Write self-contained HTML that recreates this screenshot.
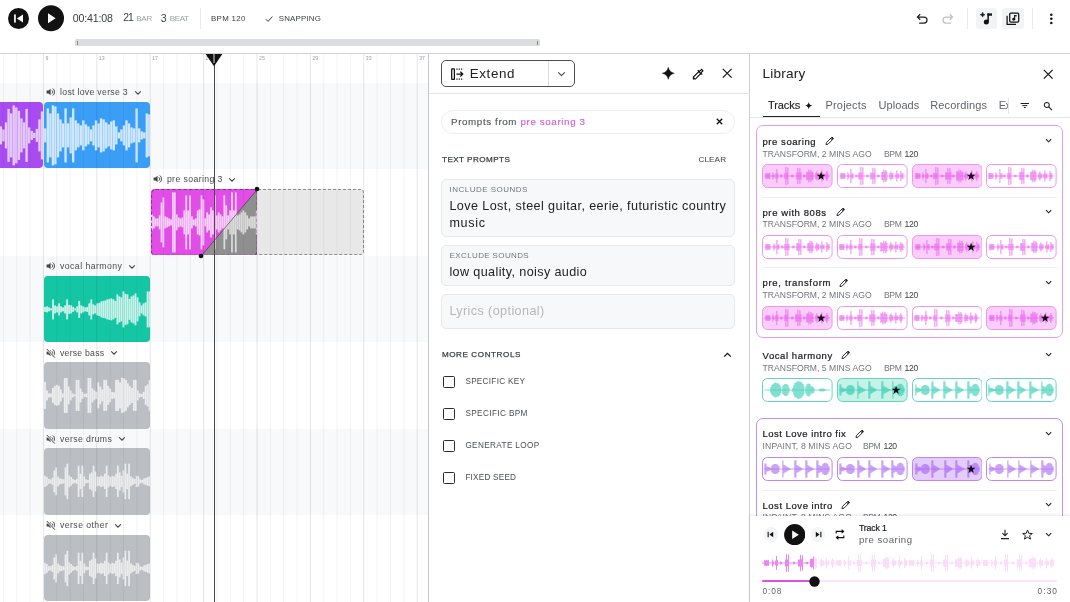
<!DOCTYPE html>
<html lang="en"><head><meta charset="utf-8"><title>Music editor</title><style>
html,body{margin:0;padding:0;background:#fff;}
body{width:1070px;height:602px;overflow:hidden;position:relative;font-family:"Liberation Sans", sans-serif;}
.a{position:absolute;box-sizing:border-box;display:block;}
.t{position:absolute;white-space:nowrap;display:block;}
#app{position:absolute;left:0;top:0;width:1070px;height:602px;will-change:transform;}
</style></head>
<body>
<div id="app">
<div class="a" style="left:0.00px;top:82.50px;width:429.00px;height:86.50px;background:#f8f9fa;"></div>
<div class="a" style="left:0.00px;top:255.50px;width:429.00px;height:86.50px;background:#f8f9fa;"></div>
<div class="a" style="left:0.00px;top:428.50px;width:429.00px;height:86.50px;background:#f8f9fa;"></div>
<div class="a" style="left:-3.40px;top:101.70px;width:46.30px;height:66.80px;background:#a84bf0;border-radius:0 4px 4px 0;overflow:hidden;">
<svg class="a" style="left:0;top:0" width="46.30" height="66.80" viewBox="0 0 46.3 66.8"><g fill="#ffffff" fill-opacity="0.70"><rect x="0.10" y="17.40" width="2.37" height="32.00"/><rect x="2.68" y="24.40" width="2.37" height="18.00"/><rect x="5.25" y="27.40" width="2.37" height="12.00"/><rect x="7.82" y="20.40" width="2.37" height="26.00"/><rect x="10.39" y="6.90" width="2.37" height="53.00"/><rect x="12.96" y="11.40" width="2.37" height="44.00"/><rect x="15.54" y="3.40" width="2.37" height="60.00"/><rect x="18.11" y="5.40" width="2.37" height="56.00"/><rect x="20.68" y="8.80" width="2.37" height="49.20"/><rect x="23.25" y="16.40" width="2.37" height="34.00"/><rect x="25.83" y="20.40" width="2.37" height="26.00"/><rect x="28.40" y="6.90" width="2.37" height="53.00"/><rect x="30.97" y="25.40" width="2.37" height="16.00"/><rect x="33.54" y="28.90" width="2.37" height="9.00"/><rect x="36.11" y="30.80" width="2.37" height="5.20"/><rect x="38.69" y="26.90" width="2.37" height="13.00"/><rect x="41.26" y="17.40" width="2.37" height="32.00"/><rect x="43.83" y="9.40" width="2.37" height="48.00"/></g></svg>
</div>
<div class="a" style="left:43.70px;top:101.70px;width:106.60px;height:66.80px;background:#3a9ef6;border-radius:4px;overflow:hidden;">
<svg class="a" style="left:0;top:0" width="106.60" height="66.80" viewBox="0 0 106.6 66.8"><g fill="#ffffff" fill-opacity="0.76"><rect x="0.10" y="26.40" width="2.34" height="14.00"/><rect x="2.64" y="6.40" width="2.34" height="54.00"/><rect x="5.18" y="11.40" width="2.34" height="44.00"/><rect x="7.72" y="3.40" width="2.34" height="60.00"/><rect x="10.25" y="4.40" width="2.34" height="58.00"/><rect x="12.79" y="11.40" width="2.34" height="44.00"/><rect x="15.33" y="17.40" width="2.34" height="32.00"/><rect x="17.87" y="21.40" width="2.34" height="24.00"/><rect x="20.41" y="6.40" width="2.34" height="54.00"/><rect x="22.94" y="21.40" width="2.34" height="24.00"/><rect x="25.48" y="15.40" width="2.34" height="36.00"/><rect x="28.02" y="6.40" width="2.34" height="54.00"/><rect x="30.56" y="18.40" width="2.34" height="30.00"/><rect x="33.10" y="21.40" width="2.34" height="24.00"/><rect x="35.63" y="23.40" width="2.34" height="20.00"/><rect x="38.17" y="18.40" width="2.34" height="30.00"/><rect x="40.71" y="22.40" width="2.34" height="22.00"/><rect x="43.25" y="24.40" width="2.34" height="18.00"/><rect x="45.79" y="27.40" width="2.34" height="12.00"/><rect x="48.33" y="23.40" width="2.34" height="20.00"/><rect x="50.86" y="18.40" width="2.34" height="30.00"/><rect x="53.40" y="21.40" width="2.34" height="24.00"/><rect x="55.94" y="16.40" width="2.34" height="34.00"/><rect x="58.48" y="17.40" width="2.34" height="32.00"/><rect x="61.02" y="20.40" width="2.34" height="26.00"/><rect x="63.55" y="22.40" width="2.34" height="22.00"/><rect x="66.09" y="19.40" width="2.34" height="28.00"/><rect x="68.63" y="18.40" width="2.34" height="30.00"/><rect x="71.17" y="24.40" width="2.34" height="18.00"/><rect x="73.71" y="30.40" width="2.34" height="6.00"/><rect x="76.24" y="27.40" width="2.34" height="12.00"/><rect x="78.78" y="23.40" width="2.34" height="20.00"/><rect x="81.32" y="18.40" width="2.34" height="30.00"/><rect x="83.86" y="21.40" width="2.34" height="24.00"/><rect x="86.40" y="25.40" width="2.34" height="16.00"/><rect x="88.93" y="26.40" width="2.34" height="14.00"/><rect x="91.47" y="6.40" width="2.34" height="54.00"/><rect x="94.01" y="26.40" width="2.34" height="14.00"/><rect x="96.55" y="29.40" width="2.34" height="8.00"/><rect x="99.09" y="30.40" width="2.34" height="6.00"/><rect x="101.63" y="11.40" width="2.34" height="44.00"/><rect x="104.16" y="12.40" width="2.34" height="42.00"/></g></svg>
</div>
<div class="a" style="left:253.30px;top:188.70px;width:111.10px;height:66.80px;background:rgba(120,120,120,0.17);border:1.2px dashed #8e8e8e;border-radius:0 4px 4px 0;"></div>
<svg class="a" style="left:150.60px;top:188.70px;" width="106.70" height="66.80" viewBox="0 0 106.7 66.8"><defs><clipPath id="cpm"><rect x="0" y="0" width="106.70" height="66.80" rx="4" ry="4"/></clipPath><clipPath id="cpl"><polygon points="0,0 106.70,0 50.40,66.80 0,66.80"/></clipPath><clipPath id="cpr"><polygon points="106.70,0 106.70,66.80 50.40,66.80"/></clipPath></defs><g clip-path="url(#cpm)"><rect width="106.70" height="66.80" fill="#e24de8"/><polygon points="106.70,0 106.70,66.80 50.40,66.80" fill="#8f8f8f"/><g clip-path="url(#cpl)"><g fill="#ffffff" fill-opacity="0.74"><rect x="0.08" y="25.40" width="1.75" height="16.00"/><rect x="1.98" y="27.40" width="1.75" height="12.00"/><rect x="3.89" y="29.40" width="1.75" height="8.00"/><rect x="5.79" y="29.40" width="1.75" height="8.00"/><rect x="7.70" y="26.40" width="1.75" height="14.00"/><rect x="9.60" y="13.40" width="1.75" height="40.00"/><rect x="11.51" y="8.40" width="1.75" height="50.00"/><rect x="13.41" y="27.40" width="1.75" height="12.00"/><rect x="15.32" y="28.40" width="1.75" height="10.00"/><rect x="17.22" y="29.40" width="1.75" height="8.00"/><rect x="19.13" y="30.40" width="1.75" height="6.00"/><rect x="21.04" y="3.40" width="1.75" height="60.00"/><rect x="22.94" y="3.40" width="1.75" height="60.00"/><rect x="24.85" y="25.40" width="1.75" height="16.00"/><rect x="26.75" y="28.40" width="1.75" height="10.00"/><rect x="28.66" y="29.40" width="1.75" height="8.00"/><rect x="30.56" y="28.40" width="1.75" height="10.00"/><rect x="32.47" y="21.40" width="1.75" height="24.00"/><rect x="34.37" y="6.40" width="1.75" height="54.00"/><rect x="36.28" y="21.40" width="1.75" height="24.00"/><rect x="38.18" y="6.40" width="1.75" height="54.00"/><rect x="40.09" y="27.40" width="1.75" height="12.00"/><rect x="41.99" y="30.40" width="1.75" height="6.00"/><rect x="43.90" y="29.40" width="1.75" height="8.00"/><rect x="45.80" y="21.40" width="1.75" height="24.00"/><rect x="47.71" y="20.40" width="1.75" height="26.00"/><rect x="49.62" y="6.40" width="1.75" height="54.00"/><rect x="51.52" y="10.40" width="1.75" height="46.00"/><rect x="53.43" y="29.40" width="1.75" height="8.00"/><rect x="55.33" y="23.40" width="1.75" height="20.00"/><rect x="57.24" y="25.40" width="1.75" height="16.00"/><rect x="59.14" y="18.40" width="1.75" height="30.00"/><rect x="61.05" y="21.40" width="1.75" height="24.00"/><rect x="62.95" y="6.40" width="1.75" height="54.00"/><rect x="64.86" y="26.40" width="1.75" height="14.00"/><rect x="66.76" y="23.40" width="1.75" height="20.00"/><rect x="68.67" y="25.40" width="1.75" height="16.00"/><rect x="70.57" y="27.40" width="1.75" height="12.00"/><rect x="72.48" y="6.40" width="1.75" height="54.00"/><rect x="74.39" y="16.40" width="1.75" height="34.00"/><rect x="76.29" y="26.40" width="1.75" height="14.00"/><rect x="78.20" y="21.40" width="1.75" height="24.00"/><rect x="80.10" y="3.40" width="1.75" height="60.00"/><rect x="82.01" y="21.40" width="1.75" height="24.00"/><rect x="83.91" y="3.40" width="1.75" height="60.00"/><rect x="85.82" y="26.40" width="1.75" height="14.00"/><rect x="87.72" y="25.40" width="1.75" height="16.00"/><rect x="89.63" y="23.40" width="1.75" height="20.00"/><rect x="91.53" y="21.40" width="1.75" height="24.00"/><rect x="93.44" y="23.40" width="1.75" height="20.00"/><rect x="95.34" y="26.40" width="1.75" height="14.00"/><rect x="97.25" y="29.40" width="1.75" height="8.00"/><rect x="99.15" y="27.40" width="1.75" height="12.00"/><rect x="101.06" y="27.40" width="1.75" height="12.00"/><rect x="102.97" y="27.40" width="1.75" height="12.00"/><rect x="104.87" y="21.40" width="1.75" height="24.00"/></g></g><g clip-path="url(#cpr)"><g fill="#ffffff" fill-opacity="0.68"><rect x="0.08" y="25.40" width="1.75" height="16.00"/><rect x="1.98" y="27.40" width="1.75" height="12.00"/><rect x="3.89" y="29.40" width="1.75" height="8.00"/><rect x="5.79" y="29.40" width="1.75" height="8.00"/><rect x="7.70" y="26.40" width="1.75" height="14.00"/><rect x="9.60" y="13.40" width="1.75" height="40.00"/><rect x="11.51" y="8.40" width="1.75" height="50.00"/><rect x="13.41" y="27.40" width="1.75" height="12.00"/><rect x="15.32" y="28.40" width="1.75" height="10.00"/><rect x="17.22" y="29.40" width="1.75" height="8.00"/><rect x="19.13" y="30.40" width="1.75" height="6.00"/><rect x="21.04" y="3.40" width="1.75" height="60.00"/><rect x="22.94" y="3.40" width="1.75" height="60.00"/><rect x="24.85" y="25.40" width="1.75" height="16.00"/><rect x="26.75" y="28.40" width="1.75" height="10.00"/><rect x="28.66" y="29.40" width="1.75" height="8.00"/><rect x="30.56" y="28.40" width="1.75" height="10.00"/><rect x="32.47" y="21.40" width="1.75" height="24.00"/><rect x="34.37" y="6.40" width="1.75" height="54.00"/><rect x="36.28" y="21.40" width="1.75" height="24.00"/><rect x="38.18" y="6.40" width="1.75" height="54.00"/><rect x="40.09" y="27.40" width="1.75" height="12.00"/><rect x="41.99" y="30.40" width="1.75" height="6.00"/><rect x="43.90" y="29.40" width="1.75" height="8.00"/><rect x="45.80" y="21.40" width="1.75" height="24.00"/><rect x="47.71" y="20.40" width="1.75" height="26.00"/><rect x="49.62" y="6.40" width="1.75" height="54.00"/><rect x="51.52" y="10.40" width="1.75" height="46.00"/><rect x="53.43" y="29.40" width="1.75" height="8.00"/><rect x="55.33" y="23.40" width="1.75" height="20.00"/><rect x="57.24" y="25.40" width="1.75" height="16.00"/><rect x="59.14" y="18.40" width="1.75" height="30.00"/><rect x="61.05" y="21.40" width="1.75" height="24.00"/><rect x="62.95" y="6.40" width="1.75" height="54.00"/><rect x="64.86" y="26.40" width="1.75" height="14.00"/><rect x="66.76" y="23.40" width="1.75" height="20.00"/><rect x="68.67" y="25.40" width="1.75" height="16.00"/><rect x="70.57" y="27.40" width="1.75" height="12.00"/><rect x="72.48" y="6.40" width="1.75" height="54.00"/><rect x="74.39" y="16.40" width="1.75" height="34.00"/><rect x="76.29" y="26.40" width="1.75" height="14.00"/><rect x="78.20" y="21.40" width="1.75" height="24.00"/><rect x="80.10" y="3.40" width="1.75" height="60.00"/><rect x="82.01" y="21.40" width="1.75" height="24.00"/><rect x="83.91" y="3.40" width="1.75" height="60.00"/><rect x="85.82" y="26.40" width="1.75" height="14.00"/><rect x="87.72" y="25.40" width="1.75" height="16.00"/><rect x="89.63" y="23.40" width="1.75" height="20.00"/><rect x="91.53" y="21.40" width="1.75" height="24.00"/><rect x="93.44" y="23.40" width="1.75" height="20.00"/><rect x="95.34" y="26.40" width="1.75" height="14.00"/><rect x="97.25" y="29.40" width="1.75" height="8.00"/><rect x="99.15" y="27.40" width="1.75" height="12.00"/><rect x="101.06" y="27.40" width="1.75" height="12.00"/><rect x="102.97" y="27.40" width="1.75" height="12.00"/><rect x="104.87" y="21.40" width="1.75" height="24.00"/></g></g><line x1="106.70" y1="0" x2="50.4" y2="66.80" stroke="#222" stroke-opacity="0.55" stroke-width="0.9"/></g><rect x="0.5" y="0.5" width="105.70" height="65.80" rx="4" ry="4" fill="none" stroke="#7f2386" stroke-opacity="0.8" stroke-width="1.1" stroke-dasharray="3.4 2.2"/></svg>
<div class="a" style="left:43.70px;top:275.60px;width:106.60px;height:66.80px;background:#14c6a4;border-radius:4px;overflow:hidden;">
<svg class="a" style="left:0;top:0" width="106.60" height="66.80" viewBox="0 0 106.6 66.8"><g fill="#ffffff" fill-opacity="0.78"><rect x="0.08" y="30.90" width="1.85" height="5.00"/><rect x="2.09" y="30.40" width="1.85" height="6.00"/><rect x="4.10" y="31.40" width="1.85" height="4.00"/><rect x="6.11" y="32.40" width="1.85" height="2.00"/><rect x="8.13" y="23.40" width="1.85" height="20.00"/><rect x="10.14" y="29.40" width="1.85" height="8.00"/><rect x="12.15" y="30.40" width="1.85" height="6.00"/><rect x="14.16" y="27.40" width="1.85" height="12.00"/><rect x="16.17" y="30.40" width="1.85" height="6.00"/><rect x="18.18" y="31.40" width="1.85" height="4.00"/><rect x="20.19" y="29.40" width="1.85" height="8.00"/><rect x="22.20" y="23.40" width="1.85" height="20.00"/><rect x="24.22" y="28.90" width="1.85" height="9.00"/><rect x="26.23" y="29.40" width="1.85" height="8.00"/><rect x="28.24" y="30.90" width="1.85" height="5.00"/><rect x="30.25" y="32.40" width="1.85" height="2.00"/><rect x="32.26" y="30.40" width="1.85" height="6.00"/><rect x="34.27" y="24.90" width="1.85" height="17.00"/><rect x="36.28" y="29.40" width="1.85" height="8.00"/><rect x="38.30" y="30.40" width="1.85" height="6.00"/><rect x="40.31" y="31.40" width="1.85" height="4.00"/><rect x="42.32" y="30.90" width="1.85" height="5.00"/><rect x="44.33" y="27.40" width="1.85" height="12.00"/><rect x="46.34" y="23.40" width="1.85" height="20.00"/><rect x="48.35" y="28.40" width="1.85" height="10.00"/><rect x="50.36" y="29.40" width="1.85" height="8.00"/><rect x="52.37" y="27.40" width="1.85" height="12.00"/><rect x="54.39" y="26.90" width="1.85" height="13.00"/><rect x="56.40" y="25.40" width="1.85" height="16.00"/><rect x="58.41" y="24.90" width="1.85" height="17.00"/><rect x="60.42" y="24.40" width="1.85" height="18.00"/><rect x="62.43" y="23.40" width="1.85" height="20.00"/><rect x="64.44" y="22.90" width="1.85" height="21.00"/><rect x="66.45" y="22.40" width="1.85" height="22.00"/><rect x="68.47" y="23.40" width="1.85" height="20.00"/><rect x="70.48" y="24.90" width="1.85" height="17.00"/><rect x="72.49" y="18.40" width="1.85" height="30.00"/><rect x="74.50" y="20.40" width="1.85" height="26.00"/><rect x="76.51" y="21.40" width="1.85" height="24.00"/><rect x="78.52" y="15.40" width="1.85" height="36.00"/><rect x="80.53" y="17.90" width="1.85" height="31.00"/><rect x="82.54" y="18.40" width="1.85" height="30.00"/><rect x="84.56" y="22.90" width="1.85" height="21.00"/><rect x="86.57" y="20.40" width="1.85" height="26.00"/><rect x="88.58" y="19.40" width="1.85" height="28.00"/><rect x="90.59" y="17.40" width="1.85" height="32.00"/><rect x="92.60" y="21.40" width="1.85" height="24.00"/><rect x="94.61" y="26.40" width="1.85" height="14.00"/><rect x="96.62" y="29.40" width="1.85" height="8.00"/><rect x="98.64" y="27.40" width="1.85" height="12.00"/><rect x="100.65" y="26.40" width="1.85" height="14.00"/><rect x="102.66" y="15.40" width="1.85" height="36.00"/><rect x="104.67" y="15.40" width="1.85" height="36.00"/></g></svg>
</div>
<div class="a" style="left:43.70px;top:362.10px;width:106.60px;height:66.80px;background:#bbbec3;border-radius:4px;overflow:hidden;">
<svg class="a" style="left:0;top:0" width="106.60" height="66.80" viewBox="0 0 106.6 66.8"><g fill="#ffffff" fill-opacity="0.72"><rect x="0.08" y="19.90" width="1.82" height="27.00"/><rect x="2.05" y="28.40" width="1.82" height="10.00"/><rect x="4.03" y="31.40" width="1.82" height="4.00"/><rect x="6.00" y="31.40" width="1.82" height="4.00"/><rect x="7.98" y="25.90" width="1.82" height="15.00"/><rect x="9.95" y="23.90" width="1.82" height="19.00"/><rect x="11.92" y="22.90" width="1.82" height="21.00"/><rect x="13.90" y="23.90" width="1.82" height="19.00"/><rect x="15.87" y="27.40" width="1.82" height="12.00"/><rect x="17.85" y="31.40" width="1.82" height="4.00"/><rect x="19.82" y="15.90" width="1.82" height="35.00"/><rect x="21.79" y="15.90" width="1.82" height="35.00"/><rect x="23.77" y="24.40" width="1.82" height="18.00"/><rect x="25.74" y="28.40" width="1.82" height="10.00"/><rect x="27.72" y="31.40" width="1.82" height="4.00"/><rect x="29.69" y="32.40" width="1.82" height="2.00"/><rect x="31.66" y="17.90" width="1.82" height="31.00"/><rect x="33.64" y="17.90" width="1.82" height="31.00"/><rect x="35.61" y="26.40" width="1.82" height="14.00"/><rect x="37.59" y="29.90" width="1.82" height="7.00"/><rect x="39.56" y="31.90" width="1.82" height="3.00"/><rect x="41.53" y="31.40" width="1.82" height="4.00"/><rect x="43.51" y="15.90" width="1.82" height="35.00"/><rect x="45.48" y="15.90" width="1.82" height="35.00"/><rect x="47.46" y="26.40" width="1.82" height="14.00"/><rect x="49.43" y="28.40" width="1.82" height="10.00"/><rect x="51.40" y="29.90" width="1.82" height="7.00"/><rect x="53.38" y="20.40" width="1.82" height="26.00"/><rect x="55.35" y="24.40" width="1.82" height="18.00"/><rect x="57.33" y="27.40" width="1.82" height="12.00"/><rect x="59.30" y="17.90" width="1.82" height="31.00"/><rect x="61.28" y="17.90" width="1.82" height="31.00"/><rect x="63.25" y="23.90" width="1.82" height="19.00"/><rect x="65.22" y="26.40" width="1.82" height="14.00"/><rect x="67.20" y="29.90" width="1.82" height="7.00"/><rect x="69.17" y="30.40" width="1.82" height="6.00"/><rect x="71.15" y="17.90" width="1.82" height="31.00"/><rect x="73.12" y="17.90" width="1.82" height="31.00"/><rect x="75.09" y="20.40" width="1.82" height="26.00"/><rect x="77.07" y="15.90" width="1.82" height="35.00"/><rect x="79.04" y="16.40" width="1.82" height="34.00"/><rect x="81.02" y="17.90" width="1.82" height="31.00"/><rect x="82.99" y="21.40" width="1.82" height="24.00"/><rect x="84.96" y="23.90" width="1.82" height="19.00"/><rect x="86.94" y="25.90" width="1.82" height="15.00"/><rect x="88.91" y="17.90" width="1.82" height="31.00"/><rect x="90.89" y="17.90" width="1.82" height="31.00"/><rect x="92.86" y="28.40" width="1.82" height="10.00"/><rect x="94.83" y="31.40" width="1.82" height="4.00"/><rect x="96.81" y="31.90" width="1.82" height="3.00"/><rect x="98.78" y="29.90" width="1.82" height="7.00"/><rect x="100.76" y="23.90" width="1.82" height="19.00"/><rect x="102.73" y="22.40" width="1.82" height="22.00"/><rect x="104.70" y="17.90" width="1.82" height="31.00"/></g></svg>
</div>
<div class="a" style="left:43.70px;top:448.30px;width:106.60px;height:66.80px;background:#bbbec3;border-radius:4px;overflow:hidden;">
<svg class="a" style="left:0;top:0" width="106.60" height="66.80" viewBox="0 0 106.6 66.8"><g fill="#ffffff" fill-opacity="0.70"><rect x="0.07" y="27.70" width="1.72" height="11.40"/><rect x="1.94" y="29.00" width="1.72" height="8.80"/><rect x="3.82" y="30.90" width="1.72" height="5.00"/><rect x="5.69" y="31.40" width="1.72" height="4.00"/><rect x="7.56" y="29.90" width="1.72" height="7.00"/><rect x="9.43" y="22.40" width="1.72" height="22.00"/><rect x="11.30" y="19.40" width="1.72" height="28.00"/><rect x="13.17" y="28.40" width="1.72" height="10.00"/><rect x="15.04" y="30.40" width="1.72" height="6.00"/><rect x="16.91" y="30.90" width="1.72" height="5.00"/><rect x="18.78" y="31.40" width="1.72" height="4.00"/><rect x="20.65" y="19.40" width="1.72" height="28.00"/><rect x="22.52" y="15.70" width="1.72" height="35.40"/><rect x="24.39" y="27.40" width="1.72" height="12.00"/><rect x="26.26" y="29.00" width="1.72" height="8.80"/><rect x="28.13" y="30.90" width="1.72" height="5.00"/><rect x="30.00" y="31.90" width="1.72" height="3.00"/><rect x="31.87" y="30.90" width="1.72" height="5.00"/><rect x="33.74" y="17.70" width="1.72" height="31.40"/><rect x="35.61" y="25.70" width="1.72" height="15.40"/><rect x="37.48" y="17.70" width="1.72" height="31.40"/><rect x="39.35" y="28.40" width="1.72" height="10.00"/><rect x="41.22" y="31.40" width="1.72" height="4.00"/><rect x="43.09" y="31.90" width="1.72" height="3.00"/><rect x="44.96" y="25.70" width="1.72" height="15.40"/><rect x="46.83" y="24.40" width="1.72" height="18.00"/><rect x="48.70" y="17.70" width="1.72" height="31.40"/><rect x="50.57" y="23.40" width="1.72" height="20.00"/><rect x="52.44" y="28.40" width="1.72" height="10.00"/><rect x="54.31" y="29.00" width="1.72" height="8.80"/><rect x="56.18" y="27.70" width="1.72" height="11.40"/><rect x="58.05" y="28.40" width="1.72" height="10.00"/><rect x="59.92" y="25.70" width="1.72" height="15.40"/><rect x="61.79" y="17.70" width="1.72" height="31.40"/><rect x="63.66" y="27.40" width="1.72" height="12.00"/><rect x="65.53" y="29.00" width="1.72" height="8.80"/><rect x="67.40" y="27.70" width="1.72" height="11.40"/><rect x="69.27" y="28.40" width="1.72" height="10.00"/><rect x="71.14" y="25.70" width="1.72" height="15.40"/><rect x="73.01" y="17.70" width="1.72" height="31.40"/><rect x="74.88" y="24.40" width="1.72" height="18.00"/><rect x="76.75" y="27.70" width="1.72" height="11.40"/><rect x="78.62" y="22.40" width="1.72" height="22.00"/><rect x="80.49" y="15.70" width="1.72" height="35.40"/><rect x="82.36" y="25.70" width="1.72" height="15.40"/><rect x="84.23" y="15.70" width="1.72" height="35.40"/><rect x="86.10" y="28.40" width="1.72" height="10.00"/><rect x="87.97" y="29.90" width="1.72" height="7.00"/><rect x="89.84" y="30.90" width="1.72" height="5.00"/><rect x="91.71" y="27.70" width="1.72" height="11.40"/><rect x="93.58" y="28.40" width="1.72" height="10.00"/><rect x="95.45" y="31.40" width="1.72" height="4.00"/><rect x="97.32" y="31.90" width="1.72" height="3.00"/><rect x="99.19" y="30.40" width="1.72" height="6.00"/><rect x="101.06" y="29.90" width="1.72" height="7.00"/><rect x="102.93" y="29.00" width="1.72" height="8.80"/><rect x="104.80" y="28.40" width="1.72" height="10.00"/></g></svg>
</div>
<div class="a" style="left:43.70px;top:534.60px;width:106.60px;height:66.80px;background:#bbbec3;border-radius:4px;overflow:hidden;">
<svg class="a" style="left:0;top:0" width="106.60" height="66.80" viewBox="0 0 106.6 66.8"><g fill="#ffffff" fill-opacity="0.70"><rect x="0.07" y="27.70" width="1.72" height="11.40"/><rect x="1.94" y="29.00" width="1.72" height="8.80"/><rect x="3.82" y="30.90" width="1.72" height="5.00"/><rect x="5.69" y="31.40" width="1.72" height="4.00"/><rect x="7.56" y="29.90" width="1.72" height="7.00"/><rect x="9.43" y="22.40" width="1.72" height="22.00"/><rect x="11.30" y="19.40" width="1.72" height="28.00"/><rect x="13.17" y="28.40" width="1.72" height="10.00"/><rect x="15.04" y="30.40" width="1.72" height="6.00"/><rect x="16.91" y="30.90" width="1.72" height="5.00"/><rect x="18.78" y="31.40" width="1.72" height="4.00"/><rect x="20.65" y="19.40" width="1.72" height="28.00"/><rect x="22.52" y="15.70" width="1.72" height="35.40"/><rect x="24.39" y="27.40" width="1.72" height="12.00"/><rect x="26.26" y="29.00" width="1.72" height="8.80"/><rect x="28.13" y="30.90" width="1.72" height="5.00"/><rect x="30.00" y="31.90" width="1.72" height="3.00"/><rect x="31.87" y="30.90" width="1.72" height="5.00"/><rect x="33.74" y="17.70" width="1.72" height="31.40"/><rect x="35.61" y="25.70" width="1.72" height="15.40"/><rect x="37.48" y="17.70" width="1.72" height="31.40"/><rect x="39.35" y="28.40" width="1.72" height="10.00"/><rect x="41.22" y="31.40" width="1.72" height="4.00"/><rect x="43.09" y="31.90" width="1.72" height="3.00"/><rect x="44.96" y="25.70" width="1.72" height="15.40"/><rect x="46.83" y="24.40" width="1.72" height="18.00"/><rect x="48.70" y="17.70" width="1.72" height="31.40"/><rect x="50.57" y="23.40" width="1.72" height="20.00"/><rect x="52.44" y="28.40" width="1.72" height="10.00"/><rect x="54.31" y="29.00" width="1.72" height="8.80"/><rect x="56.18" y="27.70" width="1.72" height="11.40"/><rect x="58.05" y="28.40" width="1.72" height="10.00"/><rect x="59.92" y="25.70" width="1.72" height="15.40"/><rect x="61.79" y="17.70" width="1.72" height="31.40"/><rect x="63.66" y="27.40" width="1.72" height="12.00"/><rect x="65.53" y="29.00" width="1.72" height="8.80"/><rect x="67.40" y="27.70" width="1.72" height="11.40"/><rect x="69.27" y="28.40" width="1.72" height="10.00"/><rect x="71.14" y="25.70" width="1.72" height="15.40"/><rect x="73.01" y="17.70" width="1.72" height="31.40"/><rect x="74.88" y="24.40" width="1.72" height="18.00"/><rect x="76.75" y="27.70" width="1.72" height="11.40"/><rect x="78.62" y="22.40" width="1.72" height="22.00"/><rect x="80.49" y="15.70" width="1.72" height="35.40"/><rect x="82.36" y="25.70" width="1.72" height="15.40"/><rect x="84.23" y="15.70" width="1.72" height="35.40"/><rect x="86.10" y="28.40" width="1.72" height="10.00"/><rect x="87.97" y="29.90" width="1.72" height="7.00"/><rect x="89.84" y="30.90" width="1.72" height="5.00"/><rect x="91.71" y="27.70" width="1.72" height="11.40"/><rect x="93.58" y="28.40" width="1.72" height="10.00"/><rect x="95.45" y="31.40" width="1.72" height="4.00"/><rect x="97.32" y="31.90" width="1.72" height="3.00"/><rect x="99.19" y="30.40" width="1.72" height="6.00"/><rect x="101.06" y="29.90" width="1.72" height="7.00"/><rect x="102.93" y="29.00" width="1.72" height="8.80"/><rect x="104.80" y="28.40" width="1.72" height="10.00"/></g></svg>
</div>
<svg class="a" style="left:0.00px;top:54.00px;" width="429.00" height="548.00" viewBox="0 0 429 548"><rect x="2.85" y="0" width="1" height="549" fill="#000" fill-opacity="0.048"/><rect x="16.20" y="0" width="1" height="549" fill="#000" fill-opacity="0.048"/><rect x="29.55" y="0" width="1" height="549" fill="#000" fill-opacity="0.048"/><rect x="42.90" y="0" width="1" height="549" fill="#000" fill-opacity="0.10"/><rect x="56.25" y="0" width="1" height="549" fill="#000" fill-opacity="0.048"/><rect x="69.60" y="0" width="1" height="549" fill="#000" fill-opacity="0.048"/><rect x="82.95" y="0" width="1" height="549" fill="#000" fill-opacity="0.048"/><rect x="96.30" y="0" width="1" height="549" fill="#000" fill-opacity="0.10"/><rect x="109.65" y="0" width="1" height="549" fill="#000" fill-opacity="0.048"/><rect x="123.00" y="0" width="1" height="549" fill="#000" fill-opacity="0.048"/><rect x="136.35" y="0" width="1" height="549" fill="#000" fill-opacity="0.048"/><rect x="149.70" y="0" width="1" height="549" fill="#000" fill-opacity="0.10"/><rect x="163.05" y="0" width="1" height="549" fill="#000" fill-opacity="0.048"/><rect x="176.40" y="0" width="1" height="549" fill="#000" fill-opacity="0.048"/><rect x="189.75" y="0" width="1" height="549" fill="#000" fill-opacity="0.048"/><rect x="203.10" y="0" width="1" height="549" fill="#000" fill-opacity="0.10"/><rect x="216.45" y="0" width="1" height="549" fill="#000" fill-opacity="0.048"/><rect x="229.80" y="0" width="1" height="549" fill="#000" fill-opacity="0.048"/><rect x="243.15" y="0" width="1" height="549" fill="#000" fill-opacity="0.048"/><rect x="256.50" y="0" width="1" height="549" fill="#000" fill-opacity="0.10"/><rect x="269.85" y="0" width="1" height="549" fill="#000" fill-opacity="0.048"/><rect x="283.20" y="0" width="1" height="549" fill="#000" fill-opacity="0.048"/><rect x="296.55" y="0" width="1" height="549" fill="#000" fill-opacity="0.048"/><rect x="309.90" y="0" width="1" height="549" fill="#000" fill-opacity="0.10"/><rect x="323.25" y="0" width="1" height="549" fill="#000" fill-opacity="0.048"/><rect x="336.60" y="0" width="1" height="549" fill="#000" fill-opacity="0.048"/><rect x="349.95" y="0" width="1" height="549" fill="#000" fill-opacity="0.048"/><rect x="363.30" y="0" width="1" height="549" fill="#000" fill-opacity="0.10"/><rect x="376.65" y="0" width="1" height="549" fill="#000" fill-opacity="0.048"/><rect x="390.00" y="0" width="1" height="549" fill="#000" fill-opacity="0.048"/><rect x="403.35" y="0" width="1" height="549" fill="#000" fill-opacity="0.048"/><rect x="416.70" y="0" width="1" height="549" fill="#000" fill-opacity="0.10"/></svg>
<span id="t1" class="t" style="left:45.40px;top:55.48px;font-size:5.20px;line-height:6.24px;color:#9aa0a6;font-weight:400;letter-spacing:0.000px;">9</span>
<span id="t2" class="t" style="left:98.80px;top:55.48px;font-size:5.20px;line-height:6.24px;color:#9aa0a6;font-weight:400;letter-spacing:0.000px;">13</span>
<span id="t3" class="t" style="left:152.20px;top:55.48px;font-size:5.20px;line-height:6.24px;color:#9aa0a6;font-weight:400;letter-spacing:0.000px;">17</span>
<span id="t4" class="t" style="left:205.60px;top:55.48px;font-size:5.20px;line-height:6.24px;color:#9aa0a6;font-weight:400;letter-spacing:0.000px;">21</span>
<span id="t5" class="t" style="left:259.00px;top:55.48px;font-size:5.20px;line-height:6.24px;color:#9aa0a6;font-weight:400;letter-spacing:0.000px;">25</span>
<span id="t6" class="t" style="left:312.40px;top:55.48px;font-size:5.20px;line-height:6.24px;color:#9aa0a6;font-weight:400;letter-spacing:0.000px;">29</span>
<span id="t7" class="t" style="left:365.80px;top:55.48px;font-size:5.20px;line-height:6.24px;color:#9aa0a6;font-weight:400;letter-spacing:0.000px;">33</span>
<span id="t8" class="t" style="left:419.20px;top:55.48px;font-size:5.20px;line-height:6.24px;color:#9aa0a6;font-weight:400;letter-spacing:0.000px;">37</span>
<svg class="a" style="left:197.00px;top:251.50px;" width="8.00" height="8.00" viewBox="0 0 8 8"><circle cx="4" cy="4" r="2.35" fill="#111"/></svg>
<svg class="a" style="left:253.30px;top:184.70px;" width="8.00" height="8.00" viewBox="0 0 8 8"><circle cx="4" cy="4" r="2.35" fill="#111"/></svg>
<svg class="a" style="left:44.60px;top:86.30px;" width="12.00" height="12.00" viewBox="0 0 12 12"><path d="M1.6 4.6h1.9L5.6 2.7v6.6L3.5 7.4H1.6z" fill="#444"/><path d="M6.9 4.3a2.2 2.2 0 0 1 0 3.4" fill="none" stroke="#444" stroke-width="0.9"/><path d="M7.7 2.4a4.4 4.4 0 0 1 0 7.2" fill="none" stroke="#444" stroke-width="0.9"/></svg>
<span id="t9" class="t" style="left:60.00px;top:87.18px;font-size:8.70px;line-height:10.44px;color:#4a4a4a;font-weight:400;letter-spacing:0.307px;">lost love verse 3</span>
<svg class="a" style="left:134.10px;top:88.80px;" width="8.00" height="8.00" viewBox="0 0 8 8"><path d="M1.2 2.4L4 5.2L6.8 2.4" fill="none" stroke="#444" stroke-width="1.1"/></svg>
<svg class="a" style="left:151.50px;top:173.30px;" width="12.00" height="12.00" viewBox="0 0 12 12"><path d="M1.6 4.6h1.9L5.6 2.7v6.6L3.5 7.4H1.6z" fill="#444"/><path d="M6.9 4.3a2.2 2.2 0 0 1 0 3.4" fill="none" stroke="#444" stroke-width="0.9"/><path d="M7.7 2.4a4.4 4.4 0 0 1 0 7.2" fill="none" stroke="#444" stroke-width="0.9"/></svg>
<span id="t10" class="t" style="left:166.90px;top:174.18px;font-size:8.70px;line-height:10.44px;color:#4a4a4a;font-weight:400;letter-spacing:0.398px;">pre soaring 3</span>
<svg class="a" style="left:228.20px;top:175.80px;" width="8.00" height="8.00" viewBox="0 0 8 8"><path d="M1.2 2.4L4 5.2L6.8 2.4" fill="none" stroke="#444" stroke-width="1.1"/></svg>
<svg class="a" style="left:44.60px;top:260.20px;" width="12.00" height="12.00" viewBox="0 0 12 12"><path d="M1.6 4.6h1.9L5.6 2.7v6.6L3.5 7.4H1.6z" fill="#444"/><path d="M6.9 4.3a2.2 2.2 0 0 1 0 3.4" fill="none" stroke="#444" stroke-width="0.9"/><path d="M7.7 2.4a4.4 4.4 0 0 1 0 7.2" fill="none" stroke="#444" stroke-width="0.9"/></svg>
<span id="t11" class="t" style="left:60.00px;top:261.08px;font-size:8.70px;line-height:10.44px;color:#4a4a4a;font-weight:400;letter-spacing:0.450px;">vocal harmony</span>
<svg class="a" style="left:128.00px;top:262.70px;" width="8.00" height="8.00" viewBox="0 0 8 8"><path d="M1.2 2.4L4 5.2L6.8 2.4" fill="none" stroke="#444" stroke-width="1.1"/></svg>
<svg class="a" style="left:44.60px;top:346.70px;" width="12.00" height="12.00" viewBox="0 0 12 12"><path d="M1.6 4.6h1.9L5.6 2.7v6.6L3.5 7.4H1.6z" fill="#444"/><path d="M6.9 4.3a2.2 2.2 0 0 1 0 3.4" fill="none" stroke="#444" stroke-width="0.9"/><path d="M7.7 2.4a4.4 4.4 0 0 1 0 7.2" fill="none" stroke="#444" stroke-width="0.9"/><path d="M1.6 1.8L10 10.8" stroke="#fbfbfc" stroke-width="2.2"/><path d="M1.8 2L9.8 10.6" stroke="#444" stroke-width="1"/></svg>
<span id="t12" class="t" style="left:60.00px;top:347.58px;font-size:8.70px;line-height:10.44px;color:#4a4a4a;font-weight:400;letter-spacing:0.232px;">verse bass</span>
<svg class="a" style="left:109.90px;top:349.20px;" width="8.00" height="8.00" viewBox="0 0 8 8"><path d="M1.2 2.4L4 5.2L6.8 2.4" fill="none" stroke="#444" stroke-width="1.1"/></svg>
<svg class="a" style="left:44.60px;top:432.90px;" width="12.00" height="12.00" viewBox="0 0 12 12"><path d="M1.6 4.6h1.9L5.6 2.7v6.6L3.5 7.4H1.6z" fill="#444"/><path d="M6.9 4.3a2.2 2.2 0 0 1 0 3.4" fill="none" stroke="#444" stroke-width="0.9"/><path d="M7.7 2.4a4.4 4.4 0 0 1 0 7.2" fill="none" stroke="#444" stroke-width="0.9"/><path d="M1.6 1.8L10 10.8" stroke="#fbfbfc" stroke-width="2.2"/><path d="M1.8 2L9.8 10.6" stroke="#444" stroke-width="1"/></svg>
<span id="t13" class="t" style="left:60.00px;top:433.78px;font-size:8.70px;line-height:10.44px;color:#4a4a4a;font-weight:400;letter-spacing:0.400px;">verse drums</span>
<svg class="a" style="left:117.90px;top:435.40px;" width="8.00" height="8.00" viewBox="0 0 8 8"><path d="M1.2 2.4L4 5.2L6.8 2.4" fill="none" stroke="#444" stroke-width="1.1"/></svg>
<svg class="a" style="left:44.60px;top:519.20px;" width="12.00" height="12.00" viewBox="0 0 12 12"><path d="M1.6 4.6h1.9L5.6 2.7v6.6L3.5 7.4H1.6z" fill="#444"/><path d="M6.9 4.3a2.2 2.2 0 0 1 0 3.4" fill="none" stroke="#444" stroke-width="0.9"/><path d="M7.7 2.4a4.4 4.4 0 0 1 0 7.2" fill="none" stroke="#444" stroke-width="0.9"/><path d="M1.6 1.8L10 10.8" stroke="#fbfbfc" stroke-width="2.2"/><path d="M1.8 2L9.8 10.6" stroke="#444" stroke-width="1"/></svg>
<span id="t14" class="t" style="left:60.00px;top:520.08px;font-size:8.70px;line-height:10.44px;color:#4a4a4a;font-weight:400;letter-spacing:0.433px;">verse other</span>
<svg class="a" style="left:113.70px;top:521.70px;" width="8.00" height="8.00" viewBox="0 0 8 8"><path d="M1.2 2.4L4 5.2L6.8 2.4" fill="none" stroke="#444" stroke-width="1.1"/></svg>
<div class="a" style="left:213.80px;top:54.00px;width:1.00px;height:548.00px;background:#484848;"></div>
<svg class="a" style="left:205.30px;top:53.60px;" width="18.00" height="13.00" viewBox="0 0 18 13"><polygon points="0.6,0 17.4,0 9,12.2" fill="#111"/><rect x="8.5" y="0" width="1" height="9" fill="#fff" fill-opacity="0.85"/></svg>
<div class="a" style="left:0.00px;top:0.00px;width:1070.00px;height:53.90px;background:#fff;border-bottom:1px solid #d0d2d6;"></div>
<svg class="a" style="left:8.00px;top:8.00px;" width="21.00" height="21.00" viewBox="0 0 21 21"><circle cx="10.5" cy="10.5" r="10.5" fill="#111"/><rect x="6.1" y="6.4" width="1.7" height="8.2" fill="#fff"/><polygon points="15,6.4 15,14.6 8.9,10.5" fill="#fff"/></svg>
<svg class="a" style="left:38.00px;top:5.30px;" width="26.00" height="26.40" viewBox="0 0 26 26.4"><circle cx="13" cy="13.2" r="13" fill="#111"/><polygon points="10,8.2 10,18.2 17.6,13.2" fill="#fff"/></svg>
<span id="t15" class="t" style="left:72.80px;top:12.04px;font-size:10.60px;line-height:12.72px;color:#3c4043;font-weight:400;letter-spacing:-0.150px;">00:41:08</span>
<span id="t16" class="t" style="left:123.20px;top:12.16px;font-size:10.40px;line-height:12.48px;color:#3c4043;font-weight:400;letter-spacing:0.000px;letter-spacing:-0.9px;">21</span>
<span id="t17" class="t" style="left:136.20px;top:14.00px;font-size:8.00px;line-height:9.60px;color:#9aa0a6;font-weight:400;letter-spacing:-0.227px;">BAR</span>
<span id="t18" class="t" style="left:160.70px;top:12.04px;font-size:10.60px;line-height:12.72px;color:#3c4043;font-weight:400;letter-spacing:0.000px;">3</span>
<span id="t19" class="t" style="left:169.70px;top:14.00px;font-size:8.00px;line-height:9.60px;color:#9aa0a6;font-weight:400;letter-spacing:-0.337px;">BEAT</span>
<div class="a" style="left:200.20px;top:8.00px;width:1.00px;height:21.00px;background:#e9ebee;"></div>
<span id="t20" class="t" style="left:211.00px;top:13.86px;font-size:7.90px;line-height:9.48px;color:#3c4043;font-weight:400;letter-spacing:0.305px;">BPM 120</span>
<svg class="a" style="left:264.60px;top:14.60px;" width="8.00" height="8.00" viewBox="0 0 8 8"><path d="M0.8 4.2L3 6.4L7.4 1.6" fill="none" stroke="#3c4043" stroke-width="1"/></svg>
<span id="t21" class="t" style="left:278.70px;top:13.86px;font-size:7.90px;line-height:9.48px;color:#3c4043;font-weight:400;letter-spacing:0.203px;">SNAPPING</span>
<div class="a" style="left:75.00px;top:39.10px;width:464.70px;height:7.30px;background:#dadce0;border-radius:1.5px;"></div>
<div class="a" style="left:77.30px;top:40.80px;width:1.00px;height:4.00px;background:#80868b;"></div>
<div class="a" style="left:536.90px;top:40.80px;width:1.00px;height:4.00px;background:#80868b;"></div>
<svg class="a" style="left:916.00px;top:12.40px;" width="12.00" height="12.00" viewBox="0 0 12 12"><path d="M4.2 2.2L1.4 5L4.2 7.8M1.8 5H8a3 3 0 0 1 0 6H3.2" fill="none" stroke="#202124" stroke-width="1.25"/></svg>
<svg class="a" style="left:942.20px;top:12.40px;" width="12.00" height="12.00" viewBox="0 0 12 12"><g transform="translate(12,0) scale(-1,1)"><path d="M4.2 2.2L1.4 5L4.2 7.8M1.8 5H8a3 3 0 0 1 0 6H3.2" fill="none" stroke="#bdc1c6" stroke-width="1.25"/></g></svg>
<div class="a" style="left:967.00px;top:8.00px;width:1.00px;height:21.40px;background:#e9ebee;"></div>
<div class="a" style="left:976.00px;top:8.00px;width:21.30px;height:21.40px;background:#f1f3f4;border-radius:3px;"></div>
<svg class="a" style="left:980.20px;top:12.00px;" width="13.00" height="13.00" viewBox="0 0 13 13"><circle cx="6.3" cy="10" r="2.5" fill="#111"/><rect x="7.4" y="1.4" width="1.5" height="8.8" fill="#111"/><rect x="7.4" y="1.4" width="4.6" height="2.3" fill="#111"/><path d="M2.6 0.3C2.8 1.9 3.4 2.5 5 2.7C3.4 2.9 2.8 3.5 2.6 5.1C2.4 3.5 1.8 2.9 0.2 2.7C1.8 2.5 2.4 1.9 2.6 0.3Z" fill="#111" stroke="#111" stroke-width="0.7" stroke-linejoin="round"/></svg>
<div class="a" style="left:1002.40px;top:8.00px;width:21.30px;height:21.40px;background:#f1f3f4;border-radius:3px;"></div>
<svg class="a" style="left:1006.20px;top:11.60px;" width="14.00" height="14.00" viewBox="0 0 14 14"><rect x="3.7" y="1.1" width="9.0" height="9.0" rx="1.1" fill="none" stroke="#111" stroke-width="1.25"/><path d="M1.1 3.8V12.4H10" fill="none" stroke="#111" stroke-width="1.25"/><circle cx="7.7" cy="7.2" r="1.45" fill="#111"/><rect x="8.2" y="3.1" width="1" height="4.3" fill="#111"/><rect x="8.2" y="3.1" width="2.5" height="1.3" fill="#111"/></svg>
<div class="a" style="left:1032.00px;top:8.00px;width:1.00px;height:21.40px;background:#e9ebee;"></div>
<svg class="a" style="left:1049.00px;top:13.20px;" width="4.60" height="11.60" viewBox="0 0 4.6 11.6"><circle cx="2.3" cy="1.7" r="1.25" fill="#111"/><circle cx="2.3" cy="5.8" r="1.25" fill="#111"/><circle cx="2.3" cy="9.9" r="1.25" fill="#111"/></svg>
<div class="a" style="left:428.00px;top:54.00px;width:322.30px;height:548.00px;background:#fff;border-left:1px solid #c6c8cc;border-right:1px solid #cdcfd3;"></div>
<div class="a" style="left:429.00px;top:93.00px;width:320.50px;height:1.00px;background:#e3e5e8;"></div>
<div class="a" style="left:441.10px;top:60.40px;width:133.80px;height:26.20px;border:1px solid #4a4d51;border-radius:5px;background:#fff;"></div>
<div class="a" style="left:548.00px;top:61.00px;width:1.00px;height:25.00px;background:#dadce0;"></div>
<svg class="a" style="left:451.20px;top:67.60px;" width="13.00" height="12.00" viewBox="0 0 13 12"><rect x="0.7" y="0.9" width="2.7" height="10.4" rx="0.3" fill="none" stroke="#111" stroke-width="1.25"/><path d="M5.4 6.1H11.6M9.3 3.7L11.8 6.1L9.3 8.5" fill="none" stroke="#111" stroke-width="1.25"/><path d="M5.4 1.1H12.4M5.4 11.1H12.4" fill="none" stroke="#111" stroke-width="1.3" stroke-dasharray="1.2 1.1"/></svg>
<span id="t22" class="t" style="left:469.70px;top:66.36px;font-size:13.40px;line-height:16.08px;color:#202124;font-weight:400;letter-spacing:0.619px;">Extend</span>
<svg class="a" style="left:556.60px;top:69.60px;" width="9.00" height="8.00" viewBox="0 0 9 8"><path d="M1.2 2.4L4.5 5.6L7.8 2.4" fill="none" stroke="#3c4043" stroke-width="1.1"/></svg>
<svg class="a" style="left:662.40px;top:67.20px;" width="12.60" height="12.60" viewBox="-0.3 -0.3 12.6 12.6"><path d="M6 0C6.7 3.3 8.7 5.3 12 6C8.7 6.7 6.7 8.7 6 12C5.3 8.7 3.3 6.7 0 6C3.3 5.3 5.3 3.3 6 0Z" fill="#111" stroke="#111" stroke-width="0.5" stroke-linejoin="round"/></svg>
<svg class="a" style="left:690.60px;top:66.60px;" width="14.40" height="14.40" viewBox="0 0 24 24"><path d="M17.66 5.41l.92.92-2.69 2.69-.92-.92 2.69-2.69M17.67 3c-.26 0-.51.1-.71.29l-3.12 3.12-1.93-1.91-1.41 1.41 1.42 1.42L3 16.25V21h4.75l8.92-8.92 1.42 1.42 1.41-1.41-1.92-1.92 3.12-3.12c.4-.4.4-1.03.01-1.42l-2.34-2.34c-.2-.19-.45-.29-.7-.29zM6.92 19L5 17.08l8.06-8.06 1.92 1.92L6.92 19z" fill="#111"/></svg>
<svg class="a" style="left:722.40px;top:68.40px;" width="10.40" height="10.40" viewBox="0 0 10.4 10.4"><path d="M0.8 0.8L9.6 9.6M9.6 0.8L0.8 9.6" stroke="#111" stroke-width="1.2"/></svg>
<div class="a" style="left:441.30px;top:109.50px;width:294.20px;height:24.00px;border:1px solid #edeff1;border-radius:12px;background:#fff;"></div>
<span id="t23" class="t" style="left:451.00px;top:115.82px;font-size:9.80px;line-height:11.76px;color:#55595e;font-weight:400;letter-spacing:0.612px;-webkit-text-stroke:0.15px #55595e;">Prompts from <span style="color:#d65cdc;-webkit-text-stroke:0.15px #d65cdc">pre soaring 3</span></span>
<svg class="a" style="left:715.80px;top:118.40px;" width="7.00" height="7.00" viewBox="0 0 7 7"><path d="M0.8 0.8L6.2 6.2M6.2 0.8L0.8 6.2" stroke="#111" stroke-width="1.3"/></svg>
<span id="t24" class="t" style="left:442.00px;top:155.44px;font-size:8.10px;line-height:9.72px;color:#3c4043;font-weight:400;letter-spacing:0.453px;-webkit-text-stroke:0.25px #3c4043;">TEXT PROMPTS</span>
<span id="t25" class="t" style="left:698.40px;top:155.44px;font-size:8.10px;line-height:9.72px;color:#3c4043;font-weight:400;letter-spacing:0.150px;">CLEAR</span>
<div class="a" style="left:441.30px;top:179.40px;width:294.20px;height:57.40px;background:#f7f8f9;border:1px solid #e6e8eb;border-radius:5px;"></div>
<span id="t26" class="t" style="left:449.60px;top:185.10px;font-size:8.00px;line-height:9.60px;color:#72767b;font-weight:400;letter-spacing:0.479px;">INCLUDE SOUNDS</span>
<span id="t27" class="t" style="left:449.40px;top:199.14px;font-size:12.60px;line-height:15.12px;color:#202124;font-weight:400;letter-spacing:0.412px;">Love Lost, steel guitar, eerie, futuristic country</span>
<span id="t28" class="t" style="left:449.40px;top:216.24px;font-size:12.60px;line-height:15.12px;color:#202124;font-weight:400;letter-spacing:0.702px;">music</span>
<div class="a" style="left:441.30px;top:245.20px;width:294.20px;height:40.60px;background:#f7f8f9;border:1px solid #e6e8eb;border-radius:5px;"></div>
<span id="t29" class="t" style="left:449.60px;top:250.60px;font-size:8.00px;line-height:9.60px;color:#72767b;font-weight:400;letter-spacing:0.373px;">EXCLUDE SOUNDS</span>
<span id="t30" class="t" style="left:449.40px;top:264.84px;font-size:12.60px;line-height:15.12px;color:#202124;font-weight:400;letter-spacing:0.384px;">low quality, noisy audio</span>
<div class="a" style="left:441.30px;top:293.70px;width:294.20px;height:35.00px;background:#f7f8f9;border:1px solid #e6e8eb;border-radius:5px;"></div>
<span id="t31" class="t" style="left:449.40px;top:303.94px;font-size:12.60px;line-height:15.12px;color:#b4b8bd;font-weight:400;letter-spacing:0.399px;">Lyrics (optional)</span>
<span id="t32" class="t" style="left:441.90px;top:350.34px;font-size:8.10px;line-height:9.72px;color:#3c4043;font-weight:400;letter-spacing:0.582px;-webkit-text-stroke:0.25px #3c4043;">MORE CONTROLS</span>
<svg class="a" style="left:723.00px;top:351.20px;" width="9.00" height="8.00" viewBox="0 0 9 8"><path d="M1.2 5.6L4.5 2.4L7.8 5.6" fill="none" stroke="#111" stroke-width="1.3"/></svg>
<div class="a" style="left:443.30px;top:375.60px;width:12.00px;height:12.00px;border:1.2px solid #2a2d30;border-radius:1.5px;background:#fff;"></div>
<span id="t33" class="t" style="left:465.40px;top:376.98px;font-size:8.20px;line-height:9.84px;color:#4a4e52;font-weight:400;letter-spacing:0.280px;">SPECIFIC KEY</span>
<div class="a" style="left:443.30px;top:407.80px;width:12.00px;height:12.00px;border:1.2px solid #2a2d30;border-radius:1.5px;background:#fff;"></div>
<span id="t34" class="t" style="left:465.40px;top:409.18px;font-size:8.20px;line-height:9.84px;color:#4a4e52;font-weight:400;letter-spacing:0.384px;">SPECIFIC BPM</span>
<div class="a" style="left:443.30px;top:440.00px;width:12.00px;height:12.00px;border:1.2px solid #2a2d30;border-radius:1.5px;background:#fff;"></div>
<span id="t35" class="t" style="left:465.40px;top:441.38px;font-size:8.20px;line-height:9.84px;color:#4a4e52;font-weight:400;letter-spacing:0.361px;">GENERATE LOOP</span>
<div class="a" style="left:443.30px;top:472.10px;width:12.00px;height:12.00px;border:1.2px solid #2a2d30;border-radius:1.5px;background:#fff;"></div>
<span id="t36" class="t" style="left:465.40px;top:473.48px;font-size:8.20px;line-height:9.84px;color:#4a4e52;font-weight:400;letter-spacing:0.213px;">FIXED SEED</span>
<div class="a" style="left:750.30px;top:54.00px;width:319.70px;height:548.00px;background:#fff;"></div>
<span id="t37" class="t" style="left:762.60px;top:66.34px;font-size:13.60px;line-height:16.32px;color:#202124;font-weight:400;letter-spacing:0.190px;">Library</span>
<svg class="a" style="left:1043.20px;top:68.80px;" width="10.40" height="10.40" viewBox="0 0 10.4 10.4"><path d="M0.8 0.8L9.6 9.6M9.6 0.8L0.8 9.6" stroke="#111" stroke-width="1.2"/></svg>
<span id="t38" class="t" style="left:768.00px;top:98.60px;font-size:11.00px;line-height:13.20px;color:#202124;font-weight:400;letter-spacing:-0.079px;-webkit-text-stroke:0.15px #202124;">Tracks</span>
<svg class="a" style="left:805.00px;top:101.60px;" width="7.40" height="7.40" viewBox="0 0 7.4 7.4"><path d="M3.7 0.1C4 2.2 5.2 3.4 7.3 3.7C5.2 4 4 5.2 3.7 7.3C3.4 5.2 2.2 4 0.1 3.7C2.2 3.4 3.4 2.2 3.7 0.1Z" fill="#111"/></svg>
<span id="t39" class="t" style="left:825.40px;top:98.60px;font-size:11.00px;line-height:13.20px;color:#5f6368;font-weight:400;letter-spacing:0.207px;">Projects</span>
<span id="t40" class="t" style="left:878.60px;top:98.60px;font-size:11.00px;line-height:13.20px;color:#5f6368;font-weight:400;letter-spacing:0.057px;">Uploads</span>
<span id="t41" class="t" style="left:930.30px;top:98.60px;font-size:11.00px;line-height:13.20px;color:#5f6368;font-weight:400;letter-spacing:0.129px;">Recordings</span>
<div class="a" style="left:998.8px;top:97.20px;width:9.4px;height:16px;overflow:hidden;">
<span id="t42" class="t" style="left:0.00px;top:1.40px;font-size:11.00px;line-height:13.20px;color:#5f6368;font-weight:400;letter-spacing:0.000px;letter-spacing:-0.7px;">Exports</span>
</div>
<div class="a" style="left:1008.40px;top:97.50px;width:1.00px;height:16.00px;background:#e3e5e8;"></div>
<svg class="a" style="left:1019.60px;top:101.20px;" width="10.00" height="8.00" viewBox="0 0 10 8"><path d="M0.6 2.5H9M2.3 4.6H7.3M3.9 6.5H5.7" stroke="#202124" stroke-width="1.0"/></svg>
<svg class="a" style="left:1043.20px;top:100.60px;" width="10.00" height="10.00" viewBox="0 0 10 10"><circle cx="3.8" cy="3.9" r="2.5" fill="none" stroke="#202124" stroke-width="1.05"/><path d="M5.7 5.8L9 9.1" stroke="#202124" stroke-width="1.15"/></svg>
<div class="a" style="left:750.00px;top:117.20px;width:320.00px;height:1.00px;background:#e3e5e8;"></div>
<div class="a" style="left:762.60px;top:115.70px;width:57.00px;height:1.70px;background:#202124;"></div>
<div class="a" style="left:756.00px;top:125.00px;width:307.00px;height:213.40px;border:1px solid #e99cec;border-radius:7px;background:#fff;"></div>
<span id="t43" class="t" style="left:762.50px;top:135.80px;font-size:9.50px;line-height:11.40px;color:#202124;font-weight:400;letter-spacing:0.557px;-webkit-text-stroke:0.22px #202124;">pre soaring</span>
<svg class="a" style="left:825.20px;top:136.10px;" width="9.40" height="9.40" viewBox="0 0 9.4 9.4"><path d="M1 8.6L1.4 6.6L6.2 1.8a1 1 0 0 1 1.6 1.6L3 8.2Z" fill="none" stroke="#202124" stroke-width="0.95" stroke-linejoin="round"/><path d="M5.6 2.4L7.2 4" stroke="#202124" stroke-width="0.95"/><path d="M6 2L7.4 0.9L8.7 2.2L7.6 3.6Z" fill="#202124"/></svg>
<svg class="a" style="left:1044.90px;top:137.20px;" width="7.20" height="7.00" viewBox="0 0 7.2 7"><path d="M1 2.2L3.6 4.8L6.2 2.2" fill="none" stroke="#202124" stroke-width="1.15"/></svg>
<span id="t44" class="t" style="left:762.50px;top:148.64px;font-size:8.60px;line-height:10.32px;color:#72767b;font-weight:400;letter-spacing:0.011px;">TRANSFORM, 2 MINS AGO</span>
<span id="t45" class="t" style="left:884.00px;top:148.64px;font-size:8.60px;line-height:10.32px;color:#72767b;font-weight:400;letter-spacing:-0.400px;">BPM</span>
<span id="t46" class="t" style="left:904.60px;top:148.64px;font-size:8.60px;line-height:10.32px;color:#3c4043;font-weight:400;letter-spacing:-0.372px;">120</span>
<svg class="a" style="left:762.30px;top:164.30px;" width="70.60" height="24.00" viewBox="0 0 70.6 24"><rect x="0.5" y="0.5" width="69.60" height="23.00" rx="5" ry="5" fill="#fbcdfb" stroke="#ee96ef" stroke-width="1"/><g opacity="0.95"><rect x="2.5" y="11.55" width="65.60" height="0.9" fill="#e85aec" fill-opacity="0.75"/><rect x="3.50" y="9.17" width="0.82" height="5.67" fill="#e85aec"/><rect x="4.50" y="9.07" width="0.82" height="5.86" fill="#e85aec"/><rect x="5.50" y="9.31" width="0.82" height="5.38" fill="#e85aec"/><rect x="6.50" y="8.92" width="0.82" height="6.16" fill="#e85aec"/><rect x="7.50" y="8.91" width="0.82" height="6.17" fill="#e85aec"/><rect x="10.50" y="8.50" width="0.82" height="7.00" fill="#e85aec"/><rect x="11.50" y="10.34" width="0.82" height="3.33" fill="#e85aec"/><rect x="13.50" y="9.29" width="0.82" height="5.42" fill="#e85aec"/><rect x="14.50" y="5.00" width="0.82" height="14.00" fill="#e85aec"/><rect x="15.50" y="9.45" width="0.82" height="5.10" fill="#e85aec"/><rect x="18.50" y="10.42" width="0.82" height="3.17" fill="#e85aec"/><rect x="19.50" y="10.40" width="0.82" height="3.20" fill="#e85aec"/><rect x="22.50" y="9.09" width="0.82" height="5.82" fill="#e85aec"/><rect x="23.50" y="3.00" width="0.82" height="18.00" fill="#e85aec"/><rect x="24.50" y="8.69" width="0.82" height="6.63" fill="#e85aec"/><rect x="25.50" y="3.45" width="0.82" height="17.10" fill="#e85aec"/><rect x="29.50" y="10.80" width="0.82" height="2.40" fill="#e85aec"/><rect x="30.50" y="10.69" width="0.82" height="2.62" fill="#e85aec"/><rect x="34.50" y="8.26" width="0.82" height="7.49" fill="#e85aec"/><rect x="35.50" y="3.80" width="0.82" height="16.40" fill="#e85aec"/><rect x="36.50" y="8.08" width="0.82" height="7.83" fill="#e85aec"/><rect x="37.50" y="4.21" width="0.82" height="15.58" fill="#e85aec"/><rect x="38.50" y="8.00" width="0.82" height="8.01" fill="#e85aec"/><rect x="41.50" y="10.51" width="0.82" height="2.99" fill="#e85aec"/><rect x="42.50" y="10.51" width="0.82" height="2.98" fill="#e85aec"/><rect x="44.50" y="7.57" width="0.82" height="8.86" fill="#e85aec"/><rect x="45.50" y="8.12" width="0.82" height="7.76" fill="#e85aec"/><rect x="46.50" y="5.60" width="0.82" height="12.80" fill="#e85aec"/><rect x="47.50" y="8.03" width="0.82" height="7.94" fill="#e85aec"/><rect x="48.50" y="5.92" width="0.82" height="12.16" fill="#e85aec"/><rect x="49.50" y="7.87" width="0.82" height="8.26" fill="#e85aec"/><rect x="50.50" y="7.81" width="0.82" height="8.38" fill="#e85aec"/><rect x="53.50" y="9.06" width="0.82" height="5.88" fill="#e85aec"/><rect x="54.50" y="7.40" width="0.82" height="9.20" fill="#e85aec"/><rect x="55.50" y="9.27" width="0.82" height="5.46" fill="#e85aec"/><rect x="56.50" y="9.34" width="0.82" height="5.32" fill="#e85aec"/><rect x="58.50" y="9.89" width="0.82" height="4.23" fill="#e85aec"/><rect x="59.50" y="6.40" width="0.82" height="11.20" fill="#e85aec"/><rect x="60.50" y="9.48" width="0.82" height="5.04" fill="#e85aec"/><rect x="61.50" y="9.84" width="0.82" height="4.32" fill="#e85aec"/><rect x="63.50" y="9.13" width="0.82" height="5.75" fill="#e85aec"/><rect x="64.50" y="7.00" width="0.82" height="10.00" fill="#e85aec"/><rect x="65.50" y="9.25" width="0.82" height="5.49" fill="#e85aec"/></g><g transform="translate(54.60,7.40)"><polygon points="4.5,0.2 5.6,3.3 8.9,3.4 6.3,5.4 7.2,8.6 4.5,6.7 1.8,8.6 2.7,5.4 0.1,3.4 3.4,3.3" fill="#111"/></g></svg>
<svg class="a" style="left:837.00px;top:164.30px;" width="70.60" height="24.00" viewBox="0 0 70.6 24"><rect x="0.5" y="0.5" width="69.60" height="23.00" rx="5" ry="5" fill="#ffffff" stroke="#ee96ef" stroke-width="1"/><g opacity="0.9"><rect x="2.5" y="11.55" width="65.60" height="0.9" fill="#e85aec" fill-opacity="0.75"/><rect x="3.50" y="9.08" width="0.82" height="5.84" fill="#e85aec"/><rect x="4.50" y="8.85" width="0.82" height="6.30" fill="#e85aec"/><rect x="5.50" y="9.14" width="0.82" height="5.72" fill="#e85aec"/><rect x="6.50" y="9.11" width="0.82" height="5.77" fill="#e85aec"/><rect x="7.50" y="9.06" width="0.82" height="5.87" fill="#e85aec"/><rect x="10.50" y="8.50" width="0.82" height="7.00" fill="#e85aec"/><rect x="11.50" y="10.20" width="0.82" height="3.61" fill="#e85aec"/><rect x="13.50" y="5.00" width="0.82" height="14.00" fill="#e85aec"/><rect x="14.50" y="9.12" width="0.82" height="5.75" fill="#e85aec"/><rect x="15.50" y="9.54" width="0.82" height="4.91" fill="#e85aec"/><rect x="18.50" y="10.62" width="0.82" height="2.75" fill="#e85aec"/><rect x="19.50" y="10.69" width="0.82" height="2.62" fill="#e85aec"/><rect x="21.50" y="8.54" width="0.82" height="6.93" fill="#e85aec"/><rect x="22.50" y="8.62" width="0.82" height="6.76" fill="#e85aec"/><rect x="23.50" y="3.00" width="0.82" height="18.00" fill="#e85aec"/><rect x="24.50" y="8.41" width="0.82" height="7.17" fill="#e85aec"/><rect x="25.50" y="3.45" width="0.82" height="17.10" fill="#e85aec"/><rect x="29.50" y="10.70" width="0.82" height="2.61" fill="#e85aec"/><rect x="30.50" y="10.71" width="0.82" height="2.58" fill="#e85aec"/><rect x="33.50" y="8.51" width="0.82" height="6.98" fill="#e85aec"/><rect x="34.50" y="8.63" width="0.82" height="6.75" fill="#e85aec"/><rect x="35.50" y="3.80" width="0.82" height="16.40" fill="#e85aec"/><rect x="36.50" y="8.59" width="0.82" height="6.82" fill="#e85aec"/><rect x="37.50" y="4.21" width="0.82" height="15.58" fill="#e85aec"/><rect x="40.50" y="10.73" width="0.82" height="2.55" fill="#e85aec"/><rect x="41.50" y="10.79" width="0.82" height="2.42" fill="#e85aec"/><rect x="44.50" y="7.71" width="0.82" height="8.57" fill="#e85aec"/><rect x="45.50" y="7.74" width="0.82" height="8.53" fill="#e85aec"/><rect x="46.50" y="5.60" width="0.82" height="12.80" fill="#e85aec"/><rect x="47.50" y="7.66" width="0.82" height="8.68" fill="#e85aec"/><rect x="48.50" y="5.92" width="0.82" height="12.16" fill="#e85aec"/><rect x="49.50" y="7.68" width="0.82" height="8.64" fill="#e85aec"/><rect x="52.50" y="9.20" width="0.82" height="5.59" fill="#e85aec"/><rect x="53.50" y="7.40" width="0.82" height="9.20" fill="#e85aec"/><rect x="54.50" y="9.43" width="0.82" height="5.13" fill="#e85aec"/><rect x="55.50" y="9.00" width="0.82" height="6.00" fill="#e85aec"/><rect x="58.50" y="9.40" width="0.82" height="5.20" fill="#e85aec"/><rect x="59.50" y="6.40" width="0.82" height="11.20" fill="#e85aec"/><rect x="60.50" y="9.55" width="0.82" height="4.90" fill="#e85aec"/><rect x="61.50" y="9.76" width="0.82" height="4.49" fill="#e85aec"/><rect x="63.50" y="7.00" width="0.82" height="10.00" fill="#e85aec"/><rect x="64.50" y="9.08" width="0.82" height="5.83" fill="#e85aec"/><rect x="65.50" y="9.23" width="0.82" height="5.54" fill="#e85aec"/></g></svg>
<svg class="a" style="left:911.60px;top:164.30px;" width="70.60" height="24.00" viewBox="0 0 70.6 24"><rect x="0.5" y="0.5" width="69.60" height="23.00" rx="5" ry="5" fill="#fbcdfb" stroke="#ee96ef" stroke-width="1"/><g opacity="0.95"><rect x="2.5" y="11.55" width="65.60" height="0.9" fill="#e85aec" fill-opacity="0.75"/><rect x="3.50" y="9.02" width="0.82" height="5.96" fill="#e85aec"/><rect x="4.50" y="9.01" width="0.82" height="5.97" fill="#e85aec"/><rect x="5.50" y="9.35" width="0.82" height="5.30" fill="#e85aec"/><rect x="6.50" y="9.43" width="0.82" height="5.13" fill="#e85aec"/><rect x="7.50" y="9.20" width="0.82" height="5.60" fill="#e85aec"/><rect x="10.50" y="8.50" width="0.82" height="7.00" fill="#e85aec"/><rect x="11.50" y="10.08" width="0.82" height="3.85" fill="#e85aec"/><rect x="13.50" y="5.00" width="0.82" height="14.00" fill="#e85aec"/><rect x="14.50" y="9.24" width="0.82" height="5.52" fill="#e85aec"/><rect x="15.50" y="9.27" width="0.82" height="5.47" fill="#e85aec"/><rect x="18.50" y="10.51" width="0.82" height="2.98" fill="#e85aec"/><rect x="19.50" y="10.67" width="0.82" height="2.65" fill="#e85aec"/><rect x="21.50" y="8.80" width="0.82" height="6.39" fill="#e85aec"/><rect x="22.50" y="9.00" width="0.82" height="5.99" fill="#e85aec"/><rect x="23.50" y="3.00" width="0.82" height="18.00" fill="#e85aec"/><rect x="24.50" y="9.08" width="0.82" height="5.84" fill="#e85aec"/><rect x="25.50" y="3.45" width="0.82" height="17.10" fill="#e85aec"/><rect x="29.50" y="10.86" width="0.82" height="2.28" fill="#e85aec"/><rect x="30.50" y="10.69" width="0.82" height="2.62" fill="#e85aec"/><rect x="33.50" y="8.36" width="0.82" height="7.29" fill="#e85aec"/><rect x="34.50" y="8.30" width="0.82" height="7.40" fill="#e85aec"/><rect x="35.50" y="3.80" width="0.82" height="16.40" fill="#e85aec"/><rect x="36.50" y="8.62" width="0.82" height="6.75" fill="#e85aec"/><rect x="37.50" y="4.21" width="0.82" height="15.58" fill="#e85aec"/><rect x="38.50" y="7.87" width="0.82" height="8.26" fill="#e85aec"/><rect x="40.50" y="10.65" width="0.82" height="2.71" fill="#e85aec"/><rect x="41.50" y="10.77" width="0.82" height="2.45" fill="#e85aec"/><rect x="44.50" y="7.21" width="0.82" height="9.58" fill="#e85aec"/><rect x="45.50" y="7.25" width="0.82" height="9.50" fill="#e85aec"/><rect x="46.50" y="5.60" width="0.82" height="12.80" fill="#e85aec"/><rect x="47.50" y="7.75" width="0.82" height="8.49" fill="#e85aec"/><rect x="48.50" y="5.92" width="0.82" height="12.16" fill="#e85aec"/><rect x="49.50" y="7.86" width="0.82" height="8.28" fill="#e85aec"/><rect x="50.50" y="7.56" width="0.82" height="8.87" fill="#e85aec"/><rect x="52.50" y="9.50" width="0.82" height="5.00" fill="#e85aec"/><rect x="53.50" y="7.40" width="0.82" height="9.20" fill="#e85aec"/><rect x="54.50" y="9.57" width="0.82" height="4.86" fill="#e85aec"/><rect x="55.50" y="9.50" width="0.82" height="5.01" fill="#e85aec"/><rect x="58.50" y="9.50" width="0.82" height="5.01" fill="#e85aec"/><rect x="59.50" y="6.40" width="0.82" height="11.20" fill="#e85aec"/><rect x="60.50" y="9.70" width="0.82" height="4.60" fill="#e85aec"/><rect x="61.50" y="9.61" width="0.82" height="4.78" fill="#e85aec"/><rect x="63.50" y="8.96" width="0.82" height="6.09" fill="#e85aec"/><rect x="64.50" y="7.00" width="0.82" height="10.00" fill="#e85aec"/><rect x="65.50" y="9.26" width="0.82" height="5.48" fill="#e85aec"/></g><g transform="translate(54.60,7.40)"><polygon points="4.5,0.2 5.6,3.3 8.9,3.4 6.3,5.4 7.2,8.6 4.5,6.7 1.8,8.6 2.7,5.4 0.1,3.4 3.4,3.3" fill="#111"/></g></svg>
<svg class="a" style="left:986.20px;top:164.30px;" width="70.60" height="24.00" viewBox="0 0 70.6 24"><rect x="0.5" y="0.5" width="69.60" height="23.00" rx="5" ry="5" fill="#ffffff" stroke="#ee96ef" stroke-width="1"/><g opacity="0.9"><rect x="2.5" y="11.55" width="65.60" height="0.9" fill="#e85aec" fill-opacity="0.75"/><rect x="2.50" y="9.00" width="0.82" height="6.00" fill="#e85aec"/><rect x="3.50" y="9.00" width="0.82" height="6.00" fill="#e85aec"/><rect x="4.50" y="8.90" width="0.82" height="6.21" fill="#e85aec"/><rect x="5.50" y="9.32" width="0.82" height="5.36" fill="#e85aec"/><rect x="6.50" y="9.29" width="0.82" height="5.42" fill="#e85aec"/><rect x="9.50" y="8.50" width="0.82" height="7.00" fill="#e85aec"/><rect x="10.50" y="10.31" width="0.82" height="3.38" fill="#e85aec"/><rect x="13.50" y="5.00" width="0.82" height="14.00" fill="#e85aec"/><rect x="14.50" y="9.52" width="0.82" height="4.96" fill="#e85aec"/><rect x="15.50" y="9.28" width="0.82" height="5.44" fill="#e85aec"/><rect x="17.50" y="10.65" width="0.82" height="2.70" fill="#e85aec"/><rect x="18.50" y="10.63" width="0.82" height="2.75" fill="#e85aec"/><rect x="21.50" y="8.81" width="0.82" height="6.38" fill="#e85aec"/><rect x="22.50" y="3.00" width="0.82" height="18.00" fill="#e85aec"/><rect x="23.50" y="8.68" width="0.82" height="6.64" fill="#e85aec"/><rect x="24.50" y="3.45" width="0.82" height="17.10" fill="#e85aec"/><rect x="28.50" y="10.80" width="0.82" height="2.39" fill="#e85aec"/><rect x="29.50" y="10.84" width="0.82" height="2.32" fill="#e85aec"/><rect x="33.50" y="7.91" width="0.82" height="8.18" fill="#e85aec"/><rect x="34.50" y="7.96" width="0.82" height="8.08" fill="#e85aec"/><rect x="35.50" y="3.80" width="0.82" height="16.40" fill="#e85aec"/><rect x="36.50" y="7.95" width="0.82" height="8.11" fill="#e85aec"/><rect x="37.50" y="4.21" width="0.82" height="15.58" fill="#e85aec"/><rect x="40.50" y="10.52" width="0.82" height="2.97" fill="#e85aec"/><rect x="41.50" y="10.56" width="0.82" height="2.88" fill="#e85aec"/><rect x="44.50" y="7.91" width="0.82" height="8.17" fill="#e85aec"/><rect x="45.50" y="7.34" width="0.82" height="9.31" fill="#e85aec"/><rect x="46.50" y="5.60" width="0.82" height="12.80" fill="#e85aec"/><rect x="47.50" y="7.44" width="0.82" height="9.13" fill="#e85aec"/><rect x="48.50" y="5.92" width="0.82" height="12.16" fill="#e85aec"/><rect x="49.50" y="7.75" width="0.82" height="8.50" fill="#e85aec"/><rect x="52.50" y="9.38" width="0.82" height="5.24" fill="#e85aec"/><rect x="53.50" y="7.40" width="0.82" height="9.20" fill="#e85aec"/><rect x="54.50" y="9.41" width="0.82" height="5.18" fill="#e85aec"/><rect x="55.50" y="9.53" width="0.82" height="4.94" fill="#e85aec"/><rect x="57.50" y="9.49" width="0.82" height="5.01" fill="#e85aec"/><rect x="58.50" y="6.40" width="0.82" height="11.20" fill="#e85aec"/><rect x="59.50" y="9.41" width="0.82" height="5.19" fill="#e85aec"/><rect x="60.50" y="9.56" width="0.82" height="4.88" fill="#e85aec"/><rect x="63.50" y="7.00" width="0.82" height="10.00" fill="#e85aec"/><rect x="64.50" y="8.77" width="0.82" height="6.46" fill="#e85aec"/><rect x="65.50" y="9.19" width="0.82" height="5.62" fill="#e85aec"/></g></svg>
<div class="a" style="left:762.50px;top:197.00px;width:294.50px;height:1.00px;background:#eceef0;"></div>
<span id="t47" class="t" style="left:762.50px;top:206.60px;font-size:9.50px;line-height:11.40px;color:#202124;font-weight:400;letter-spacing:0.590px;-webkit-text-stroke:0.22px #202124;">pre with 808s</span>
<svg class="a" style="left:835.60px;top:206.90px;" width="9.40" height="9.40" viewBox="0 0 9.4 9.4"><path d="M1 8.6L1.4 6.6L6.2 1.8a1 1 0 0 1 1.6 1.6L3 8.2Z" fill="none" stroke="#202124" stroke-width="0.95" stroke-linejoin="round"/><path d="M5.6 2.4L7.2 4" stroke="#202124" stroke-width="0.95"/><path d="M6 2L7.4 0.9L8.7 2.2L7.6 3.6Z" fill="#202124"/></svg>
<svg class="a" style="left:1044.90px;top:208.00px;" width="7.20" height="7.00" viewBox="0 0 7.2 7"><path d="M1 2.2L3.6 4.8L6.2 2.2" fill="none" stroke="#202124" stroke-width="1.15"/></svg>
<span id="t48" class="t" style="left:762.50px;top:219.44px;font-size:8.60px;line-height:10.32px;color:#72767b;font-weight:400;letter-spacing:0.011px;">TRANSFORM, 2 MINS AGO</span>
<span id="t49" class="t" style="left:884.00px;top:219.44px;font-size:8.60px;line-height:10.32px;color:#72767b;font-weight:400;letter-spacing:-0.400px;">BPM</span>
<span id="t50" class="t" style="left:904.60px;top:219.44px;font-size:8.60px;line-height:10.32px;color:#3c4043;font-weight:400;letter-spacing:-0.372px;">120</span>
<svg class="a" style="left:762.30px;top:235.30px;" width="70.60" height="24.00" viewBox="0 0 70.6 24"><rect x="0.5" y="0.5" width="69.60" height="23.00" rx="5" ry="5" fill="#ffffff" stroke="#ee96ef" stroke-width="1"/><g opacity="0.9"><rect x="2.5" y="11.55" width="65.60" height="0.9" fill="#e85aec" fill-opacity="0.75"/><rect x="3.50" y="9.00" width="0.82" height="6.00" fill="#e85aec"/><rect x="4.50" y="8.95" width="0.82" height="6.10" fill="#e85aec"/><rect x="5.50" y="8.86" width="0.82" height="6.28" fill="#e85aec"/><rect x="6.50" y="9.27" width="0.82" height="5.45" fill="#e85aec"/><rect x="7.50" y="9.03" width="0.82" height="5.93" fill="#e85aec"/><rect x="11.50" y="8.50" width="0.82" height="7.00" fill="#e85aec"/><rect x="12.50" y="10.05" width="0.82" height="3.90" fill="#e85aec"/><rect x="14.50" y="5.00" width="0.82" height="14.00" fill="#e85aec"/><rect x="15.50" y="9.50" width="0.82" height="5.00" fill="#e85aec"/><rect x="16.50" y="9.35" width="0.82" height="5.29" fill="#e85aec"/><rect x="19.50" y="10.40" width="0.82" height="3.20" fill="#e85aec"/><rect x="20.50" y="10.69" width="0.82" height="2.63" fill="#e85aec"/><rect x="22.50" y="8.89" width="0.82" height="6.22" fill="#e85aec"/><rect x="23.50" y="3.00" width="0.82" height="18.00" fill="#e85aec"/><rect x="24.50" y="8.80" width="0.82" height="6.41" fill="#e85aec"/><rect x="25.50" y="3.45" width="0.82" height="17.10" fill="#e85aec"/><rect x="26.50" y="8.89" width="0.82" height="6.22" fill="#e85aec"/><rect x="30.50" y="10.63" width="0.82" height="2.75" fill="#e85aec"/><rect x="31.50" y="10.79" width="0.82" height="2.43" fill="#e85aec"/><rect x="34.50" y="8.28" width="0.82" height="7.44" fill="#e85aec"/><rect x="35.50" y="8.11" width="0.82" height="7.77" fill="#e85aec"/><rect x="36.50" y="3.80" width="0.82" height="16.40" fill="#e85aec"/><rect x="37.50" y="8.23" width="0.82" height="7.55" fill="#e85aec"/><rect x="38.50" y="4.21" width="0.82" height="15.58" fill="#e85aec"/><rect x="41.50" y="10.63" width="0.82" height="2.74" fill="#e85aec"/><rect x="42.50" y="10.79" width="0.82" height="2.42" fill="#e85aec"/><rect x="45.50" y="8.07" width="0.82" height="7.86" fill="#e85aec"/><rect x="46.50" y="7.98" width="0.82" height="8.05" fill="#e85aec"/><rect x="47.50" y="5.60" width="0.82" height="12.80" fill="#e85aec"/><rect x="48.50" y="7.89" width="0.82" height="8.22" fill="#e85aec"/><rect x="49.50" y="5.92" width="0.82" height="12.16" fill="#e85aec"/><rect x="50.50" y="8.00" width="0.82" height="7.99" fill="#e85aec"/><rect x="53.50" y="9.53" width="0.82" height="4.94" fill="#e85aec"/><rect x="54.50" y="7.40" width="0.82" height="9.20" fill="#e85aec"/><rect x="55.50" y="9.18" width="0.82" height="5.65" fill="#e85aec"/><rect x="56.50" y="9.08" width="0.82" height="5.83" fill="#e85aec"/><rect x="58.50" y="9.81" width="0.82" height="4.39" fill="#e85aec"/><rect x="59.50" y="6.40" width="0.82" height="11.20" fill="#e85aec"/><rect x="60.50" y="9.91" width="0.82" height="4.17" fill="#e85aec"/><rect x="61.50" y="9.58" width="0.82" height="4.83" fill="#e85aec"/><rect x="64.50" y="7.00" width="0.82" height="10.00" fill="#e85aec"/><rect x="65.50" y="9.19" width="0.82" height="5.63" fill="#e85aec"/><rect x="66.50" y="8.84" width="0.82" height="6.32" fill="#e85aec"/></g></svg>
<svg class="a" style="left:837.00px;top:235.30px;" width="70.60" height="24.00" viewBox="0 0 70.6 24"><rect x="0.5" y="0.5" width="69.60" height="23.00" rx="5" ry="5" fill="#ffffff" stroke="#ee96ef" stroke-width="1"/><g opacity="0.9"><rect x="2.5" y="11.55" width="65.60" height="0.9" fill="#e85aec" fill-opacity="0.75"/><rect x="2.50" y="9.00" width="0.82" height="6.00" fill="#e85aec"/><rect x="3.50" y="9.03" width="0.82" height="5.93" fill="#e85aec"/><rect x="4.50" y="9.13" width="0.82" height="5.73" fill="#e85aec"/><rect x="5.50" y="9.30" width="0.82" height="5.40" fill="#e85aec"/><rect x="6.50" y="8.93" width="0.82" height="6.13" fill="#e85aec"/><rect x="9.50" y="8.50" width="0.82" height="7.00" fill="#e85aec"/><rect x="10.50" y="10.20" width="0.82" height="3.61" fill="#e85aec"/><rect x="12.50" y="9.30" width="0.82" height="5.41" fill="#e85aec"/><rect x="13.50" y="5.00" width="0.82" height="14.00" fill="#e85aec"/><rect x="14.50" y="9.60" width="0.82" height="4.80" fill="#e85aec"/><rect x="17.50" y="10.60" width="0.82" height="2.80" fill="#e85aec"/><rect x="18.50" y="10.53" width="0.82" height="2.93" fill="#e85aec"/><rect x="21.50" y="9.07" width="0.82" height="5.86" fill="#e85aec"/><rect x="22.50" y="3.00" width="0.82" height="18.00" fill="#e85aec"/><rect x="23.50" y="8.95" width="0.82" height="6.09" fill="#e85aec"/><rect x="24.50" y="3.45" width="0.82" height="17.10" fill="#e85aec"/><rect x="28.50" y="10.87" width="0.82" height="2.26" fill="#e85aec"/><rect x="29.50" y="10.60" width="0.82" height="2.80" fill="#e85aec"/><rect x="33.50" y="8.02" width="0.82" height="7.96" fill="#e85aec"/><rect x="34.50" y="3.80" width="0.82" height="16.40" fill="#e85aec"/><rect x="35.50" y="8.12" width="0.82" height="7.75" fill="#e85aec"/><rect x="36.50" y="4.21" width="0.82" height="15.58" fill="#e85aec"/><rect x="37.50" y="8.36" width="0.82" height="7.27" fill="#e85aec"/><rect x="40.50" y="10.65" width="0.82" height="2.70" fill="#e85aec"/><rect x="41.50" y="10.77" width="0.82" height="2.47" fill="#e85aec"/><rect x="43.50" y="7.25" width="0.82" height="9.51" fill="#e85aec"/><rect x="44.50" y="7.81" width="0.82" height="8.39" fill="#e85aec"/><rect x="45.50" y="8.01" width="0.82" height="7.98" fill="#e85aec"/><rect x="46.50" y="5.60" width="0.82" height="12.80" fill="#e85aec"/><rect x="47.50" y="8.04" width="0.82" height="7.92" fill="#e85aec"/><rect x="48.50" y="5.92" width="0.82" height="12.16" fill="#e85aec"/><rect x="49.50" y="7.72" width="0.82" height="8.55" fill="#e85aec"/><rect x="52.50" y="9.27" width="0.82" height="5.46" fill="#e85aec"/><rect x="53.50" y="7.40" width="0.82" height="9.20" fill="#e85aec"/><rect x="54.50" y="9.31" width="0.82" height="5.38" fill="#e85aec"/><rect x="55.50" y="9.49" width="0.82" height="5.02" fill="#e85aec"/><rect x="57.50" y="9.90" width="0.82" height="4.20" fill="#e85aec"/><rect x="58.50" y="6.40" width="0.82" height="11.20" fill="#e85aec"/><rect x="59.50" y="9.80" width="0.82" height="4.40" fill="#e85aec"/><rect x="60.50" y="9.51" width="0.82" height="4.97" fill="#e85aec"/><rect x="62.50" y="9.14" width="0.82" height="5.72" fill="#e85aec"/><rect x="63.50" y="7.00" width="0.82" height="10.00" fill="#e85aec"/><rect x="64.50" y="8.67" width="0.82" height="6.66" fill="#e85aec"/><rect x="65.50" y="8.77" width="0.82" height="6.47" fill="#e85aec"/></g></svg>
<svg class="a" style="left:911.60px;top:235.30px;" width="70.60" height="24.00" viewBox="0 0 70.6 24"><rect x="0.5" y="0.5" width="69.60" height="23.00" rx="5" ry="5" fill="#fbcdfb" stroke="#ee96ef" stroke-width="1"/><g opacity="0.95"><rect x="2.5" y="11.55" width="65.60" height="0.9" fill="#e85aec" fill-opacity="0.75"/><rect x="3.50" y="9.35" width="0.82" height="5.30" fill="#e85aec"/><rect x="4.50" y="9.42" width="0.82" height="5.15" fill="#e85aec"/><rect x="5.50" y="8.80" width="0.82" height="6.40" fill="#e85aec"/><rect x="6.50" y="9.32" width="0.82" height="5.36" fill="#e85aec"/><rect x="7.50" y="9.36" width="0.82" height="5.27" fill="#e85aec"/><rect x="11.50" y="8.50" width="0.82" height="7.00" fill="#e85aec"/><rect x="12.50" y="10.26" width="0.82" height="3.48" fill="#e85aec"/><rect x="14.50" y="5.00" width="0.82" height="14.00" fill="#e85aec"/><rect x="15.50" y="9.46" width="0.82" height="5.08" fill="#e85aec"/><rect x="16.50" y="9.02" width="0.82" height="5.95" fill="#e85aec"/><rect x="19.50" y="10.62" width="0.82" height="2.76" fill="#e85aec"/><rect x="20.50" y="10.53" width="0.82" height="2.94" fill="#e85aec"/><rect x="22.50" y="8.45" width="0.82" height="7.10" fill="#e85aec"/><rect x="23.50" y="8.63" width="0.82" height="6.75" fill="#e85aec"/><rect x="24.50" y="3.00" width="0.82" height="18.00" fill="#e85aec"/><rect x="25.50" y="8.61" width="0.82" height="6.78" fill="#e85aec"/><rect x="26.50" y="3.45" width="0.82" height="17.10" fill="#e85aec"/><rect x="30.50" y="10.63" width="0.82" height="2.73" fill="#e85aec"/><rect x="31.50" y="10.71" width="0.82" height="2.57" fill="#e85aec"/><rect x="34.50" y="8.38" width="0.82" height="7.24" fill="#e85aec"/><rect x="35.50" y="8.48" width="0.82" height="7.04" fill="#e85aec"/><rect x="36.50" y="3.80" width="0.82" height="16.40" fill="#e85aec"/><rect x="37.50" y="8.15" width="0.82" height="7.70" fill="#e85aec"/><rect x="38.50" y="4.21" width="0.82" height="15.58" fill="#e85aec"/><rect x="41.50" y="10.57" width="0.82" height="2.86" fill="#e85aec"/><rect x="42.50" y="10.51" width="0.82" height="2.98" fill="#e85aec"/><rect x="45.50" y="7.62" width="0.82" height="8.77" fill="#e85aec"/><rect x="46.50" y="7.49" width="0.82" height="9.02" fill="#e85aec"/><rect x="47.50" y="5.60" width="0.82" height="12.80" fill="#e85aec"/><rect x="48.50" y="7.91" width="0.82" height="8.18" fill="#e85aec"/><rect x="49.50" y="5.92" width="0.82" height="12.16" fill="#e85aec"/><rect x="50.50" y="7.86" width="0.82" height="8.28" fill="#e85aec"/><rect x="53.50" y="9.13" width="0.82" height="5.74" fill="#e85aec"/><rect x="54.50" y="7.40" width="0.82" height="9.20" fill="#e85aec"/><rect x="55.50" y="9.21" width="0.82" height="5.58" fill="#e85aec"/><rect x="56.50" y="9.51" width="0.82" height="4.97" fill="#e85aec"/><rect x="59.50" y="9.49" width="0.82" height="5.02" fill="#e85aec"/><rect x="60.50" y="6.40" width="0.82" height="11.20" fill="#e85aec"/><rect x="61.50" y="9.82" width="0.82" height="4.35" fill="#e85aec"/><rect x="62.50" y="9.89" width="0.82" height="4.21" fill="#e85aec"/><rect x="64.50" y="7.00" width="0.82" height="10.00" fill="#e85aec"/><rect x="65.50" y="9.26" width="0.82" height="5.48" fill="#e85aec"/><rect x="66.50" y="8.65" width="0.82" height="6.70" fill="#e85aec"/></g><g transform="translate(54.60,7.40)"><polygon points="4.5,0.2 5.6,3.3 8.9,3.4 6.3,5.4 7.2,8.6 4.5,6.7 1.8,8.6 2.7,5.4 0.1,3.4 3.4,3.3" fill="#111"/></g></svg>
<svg class="a" style="left:986.20px;top:235.30px;" width="70.60" height="24.00" viewBox="0 0 70.6 24"><rect x="0.5" y="0.5" width="69.60" height="23.00" rx="5" ry="5" fill="#ffffff" stroke="#ee96ef" stroke-width="1"/><g opacity="0.9"><rect x="2.5" y="11.55" width="65.60" height="0.9" fill="#e85aec" fill-opacity="0.75"/><rect x="3.50" y="8.83" width="0.82" height="6.33" fill="#e85aec"/><rect x="4.50" y="8.87" width="0.82" height="6.26" fill="#e85aec"/><rect x="5.50" y="9.39" width="0.82" height="5.23" fill="#e85aec"/><rect x="6.50" y="9.06" width="0.82" height="5.88" fill="#e85aec"/><rect x="7.50" y="9.17" width="0.82" height="5.66" fill="#e85aec"/><rect x="11.50" y="8.50" width="0.82" height="7.00" fill="#e85aec"/><rect x="12.50" y="10.35" width="0.82" height="3.30" fill="#e85aec"/><rect x="14.50" y="5.00" width="0.82" height="14.00" fill="#e85aec"/><rect x="15.50" y="9.33" width="0.82" height="5.33" fill="#e85aec"/><rect x="16.50" y="9.47" width="0.82" height="5.07" fill="#e85aec"/><rect x="19.50" y="10.57" width="0.82" height="2.85" fill="#e85aec"/><rect x="20.50" y="10.71" width="0.82" height="2.58" fill="#e85aec"/><rect x="22.50" y="9.06" width="0.82" height="5.88" fill="#e85aec"/><rect x="23.50" y="3.00" width="0.82" height="18.00" fill="#e85aec"/><rect x="24.50" y="8.82" width="0.82" height="6.37" fill="#e85aec"/><rect x="25.50" y="3.45" width="0.82" height="17.10" fill="#e85aec"/><rect x="26.50" y="8.59" width="0.82" height="6.82" fill="#e85aec"/><rect x="30.50" y="10.78" width="0.82" height="2.44" fill="#e85aec"/><rect x="31.50" y="10.86" width="0.82" height="2.27" fill="#e85aec"/><rect x="34.50" y="7.98" width="0.82" height="8.04" fill="#e85aec"/><rect x="35.50" y="8.15" width="0.82" height="7.71" fill="#e85aec"/><rect x="36.50" y="3.80" width="0.82" height="16.40" fill="#e85aec"/><rect x="37.50" y="8.12" width="0.82" height="7.76" fill="#e85aec"/><rect x="38.50" y="4.21" width="0.82" height="15.58" fill="#e85aec"/><rect x="41.50" y="10.69" width="0.82" height="2.62" fill="#e85aec"/><rect x="42.50" y="10.57" width="0.82" height="2.86" fill="#e85aec"/><rect x="45.50" y="7.81" width="0.82" height="8.39" fill="#e85aec"/><rect x="46.50" y="7.61" width="0.82" height="8.78" fill="#e85aec"/><rect x="47.50" y="5.60" width="0.82" height="12.80" fill="#e85aec"/><rect x="48.50" y="7.86" width="0.82" height="8.28" fill="#e85aec"/><rect x="49.50" y="5.92" width="0.82" height="12.16" fill="#e85aec"/><rect x="50.50" y="7.70" width="0.82" height="8.59" fill="#e85aec"/><rect x="53.50" y="9.17" width="0.82" height="5.66" fill="#e85aec"/><rect x="54.50" y="7.40" width="0.82" height="9.20" fill="#e85aec"/><rect x="55.50" y="9.33" width="0.82" height="5.34" fill="#e85aec"/><rect x="56.50" y="9.21" width="0.82" height="5.57" fill="#e85aec"/><rect x="59.50" y="9.83" width="0.82" height="4.35" fill="#e85aec"/><rect x="60.50" y="6.40" width="0.82" height="11.20" fill="#e85aec"/><rect x="61.50" y="9.75" width="0.82" height="4.50" fill="#e85aec"/><rect x="62.50" y="9.50" width="0.82" height="5.01" fill="#e85aec"/><rect x="64.50" y="7.00" width="0.82" height="10.00" fill="#e85aec"/><rect x="65.50" y="9.20" width="0.82" height="5.60" fill="#e85aec"/><rect x="66.50" y="9.21" width="0.82" height="5.57" fill="#e85aec"/></g></svg>
<div class="a" style="left:762.50px;top:267.40px;width:294.50px;height:1.00px;background:#eceef0;"></div>
<span id="t51" class="t" style="left:762.50px;top:277.40px;font-size:9.50px;line-height:11.40px;color:#202124;font-weight:400;letter-spacing:0.674px;-webkit-text-stroke:0.22px #202124;">pre, transform</span>
<svg class="a" style="left:839.40px;top:277.70px;" width="9.40" height="9.40" viewBox="0 0 9.4 9.4"><path d="M1 8.6L1.4 6.6L6.2 1.8a1 1 0 0 1 1.6 1.6L3 8.2Z" fill="none" stroke="#202124" stroke-width="0.95" stroke-linejoin="round"/><path d="M5.6 2.4L7.2 4" stroke="#202124" stroke-width="0.95"/><path d="M6 2L7.4 0.9L8.7 2.2L7.6 3.6Z" fill="#202124"/></svg>
<svg class="a" style="left:1044.90px;top:278.80px;" width="7.20" height="7.00" viewBox="0 0 7.2 7"><path d="M1 2.2L3.6 4.8L6.2 2.2" fill="none" stroke="#202124" stroke-width="1.15"/></svg>
<span id="t52" class="t" style="left:762.50px;top:290.24px;font-size:8.60px;line-height:10.32px;color:#72767b;font-weight:400;letter-spacing:0.011px;">TRANSFORM, 2 MINS AGO</span>
<span id="t53" class="t" style="left:884.00px;top:290.24px;font-size:8.60px;line-height:10.32px;color:#72767b;font-weight:400;letter-spacing:-0.400px;">BPM</span>
<span id="t54" class="t" style="left:904.60px;top:290.24px;font-size:8.60px;line-height:10.32px;color:#3c4043;font-weight:400;letter-spacing:-0.372px;">120</span>
<svg class="a" style="left:762.30px;top:306.20px;" width="70.60" height="24.00" viewBox="0 0 70.6 24"><rect x="0.5" y="0.5" width="69.60" height="23.00" rx="5" ry="5" fill="#fbcdfb" stroke="#ee96ef" stroke-width="1"/><g opacity="0.95"><rect x="2.5" y="11.55" width="65.60" height="0.9" fill="#e85aec" fill-opacity="0.75"/><rect x="3.50" y="9.25" width="0.82" height="5.49" fill="#e85aec"/><rect x="4.50" y="9.42" width="0.82" height="5.16" fill="#e85aec"/><rect x="5.50" y="9.02" width="0.82" height="5.96" fill="#e85aec"/><rect x="6.50" y="9.31" width="0.82" height="5.39" fill="#e85aec"/><rect x="7.50" y="9.28" width="0.82" height="5.45" fill="#e85aec"/><rect x="10.50" y="8.50" width="0.82" height="7.00" fill="#e85aec"/><rect x="11.50" y="10.14" width="0.82" height="3.71" fill="#e85aec"/><rect x="13.50" y="9.01" width="0.82" height="5.99" fill="#e85aec"/><rect x="14.50" y="5.00" width="0.82" height="14.00" fill="#e85aec"/><rect x="15.50" y="9.00" width="0.82" height="5.99" fill="#e85aec"/><rect x="18.50" y="10.40" width="0.82" height="3.20" fill="#e85aec"/><rect x="19.50" y="10.64" width="0.82" height="2.72" fill="#e85aec"/><rect x="22.50" y="9.07" width="0.82" height="5.86" fill="#e85aec"/><rect x="23.50" y="3.00" width="0.82" height="18.00" fill="#e85aec"/><rect x="24.50" y="8.51" width="0.82" height="6.97" fill="#e85aec"/><rect x="25.50" y="3.45" width="0.82" height="17.10" fill="#e85aec"/><rect x="29.50" y="10.62" width="0.82" height="2.75" fill="#e85aec"/><rect x="30.50" y="10.61" width="0.82" height="2.78" fill="#e85aec"/><rect x="33.50" y="8.09" width="0.82" height="7.82" fill="#e85aec"/><rect x="34.50" y="8.19" width="0.82" height="7.62" fill="#e85aec"/><rect x="35.50" y="3.80" width="0.82" height="16.40" fill="#e85aec"/><rect x="36.50" y="8.62" width="0.82" height="6.76" fill="#e85aec"/><rect x="37.50" y="4.21" width="0.82" height="15.58" fill="#e85aec"/><rect x="38.50" y="8.08" width="0.82" height="7.85" fill="#e85aec"/><rect x="41.50" y="10.57" width="0.82" height="2.86" fill="#e85aec"/><rect x="42.50" y="10.63" width="0.82" height="2.74" fill="#e85aec"/><rect x="44.50" y="7.51" width="0.82" height="8.97" fill="#e85aec"/><rect x="45.50" y="7.55" width="0.82" height="8.91" fill="#e85aec"/><rect x="46.50" y="5.60" width="0.82" height="12.80" fill="#e85aec"/><rect x="47.50" y="8.05" width="0.82" height="7.89" fill="#e85aec"/><rect x="48.50" y="5.92" width="0.82" height="12.16" fill="#e85aec"/><rect x="49.50" y="7.86" width="0.82" height="8.27" fill="#e85aec"/><rect x="50.50" y="7.36" width="0.82" height="9.27" fill="#e85aec"/><rect x="53.50" y="9.07" width="0.82" height="5.85" fill="#e85aec"/><rect x="54.50" y="7.40" width="0.82" height="9.20" fill="#e85aec"/><rect x="55.50" y="9.55" width="0.82" height="4.90" fill="#e85aec"/><rect x="56.50" y="9.45" width="0.82" height="5.09" fill="#e85aec"/><rect x="58.50" y="9.76" width="0.82" height="4.49" fill="#e85aec"/><rect x="59.50" y="6.40" width="0.82" height="11.20" fill="#e85aec"/><rect x="60.50" y="9.71" width="0.82" height="4.59" fill="#e85aec"/><rect x="61.50" y="9.53" width="0.82" height="4.94" fill="#e85aec"/><rect x="63.50" y="9.08" width="0.82" height="5.85" fill="#e85aec"/><rect x="64.50" y="7.00" width="0.82" height="10.00" fill="#e85aec"/><rect x="65.50" y="9.15" width="0.82" height="5.69" fill="#e85aec"/></g><g transform="translate(54.60,7.40)"><polygon points="4.5,0.2 5.6,3.3 8.9,3.4 6.3,5.4 7.2,8.6 4.5,6.7 1.8,8.6 2.7,5.4 0.1,3.4 3.4,3.3" fill="#111"/></g></svg>
<svg class="a" style="left:837.00px;top:306.20px;" width="70.60" height="24.00" viewBox="0 0 70.6 24"><rect x="0.5" y="0.5" width="69.60" height="23.00" rx="5" ry="5" fill="#ffffff" stroke="#ee96ef" stroke-width="1"/><g opacity="0.9"><rect x="2.5" y="11.55" width="65.60" height="0.9" fill="#e85aec" fill-opacity="0.75"/><rect x="2.50" y="9.37" width="0.82" height="5.26" fill="#e85aec"/><rect x="3.50" y="9.19" width="0.82" height="5.62" fill="#e85aec"/><rect x="4.50" y="9.00" width="0.82" height="6.00" fill="#e85aec"/><rect x="5.50" y="9.35" width="0.82" height="5.30" fill="#e85aec"/><rect x="6.50" y="9.37" width="0.82" height="5.26" fill="#e85aec"/><rect x="9.50" y="8.50" width="0.82" height="7.00" fill="#e85aec"/><rect x="10.50" y="10.10" width="0.82" height="3.81" fill="#e85aec"/><rect x="12.50" y="9.51" width="0.82" height="4.98" fill="#e85aec"/><rect x="13.50" y="5.00" width="0.82" height="14.00" fill="#e85aec"/><rect x="14.50" y="9.20" width="0.82" height="5.59" fill="#e85aec"/><rect x="17.50" y="10.68" width="0.82" height="2.65" fill="#e85aec"/><rect x="18.50" y="10.55" width="0.82" height="2.90" fill="#e85aec"/><rect x="20.50" y="8.80" width="0.82" height="6.40" fill="#e85aec"/><rect x="21.50" y="8.82" width="0.82" height="6.35" fill="#e85aec"/><rect x="22.50" y="3.00" width="0.82" height="18.00" fill="#e85aec"/><rect x="23.50" y="9.05" width="0.82" height="5.89" fill="#e85aec"/><rect x="24.50" y="3.45" width="0.82" height="17.10" fill="#e85aec"/><rect x="28.50" y="10.62" width="0.82" height="2.77" fill="#e85aec"/><rect x="29.50" y="10.77" width="0.82" height="2.47" fill="#e85aec"/><rect x="32.50" y="8.47" width="0.82" height="7.05" fill="#e85aec"/><rect x="33.50" y="8.36" width="0.82" height="7.27" fill="#e85aec"/><rect x="34.50" y="3.80" width="0.82" height="16.40" fill="#e85aec"/><rect x="35.50" y="7.84" width="0.82" height="8.32" fill="#e85aec"/><rect x="36.50" y="4.21" width="0.82" height="15.58" fill="#e85aec"/><rect x="37.50" y="8.46" width="0.82" height="7.08" fill="#e85aec"/><rect x="40.50" y="10.62" width="0.82" height="2.75" fill="#e85aec"/><rect x="41.50" y="10.64" width="0.82" height="2.73" fill="#e85aec"/><rect x="43.50" y="7.24" width="0.82" height="9.51" fill="#e85aec"/><rect x="44.50" y="7.35" width="0.82" height="9.29" fill="#e85aec"/><rect x="45.50" y="5.60" width="0.82" height="12.80" fill="#e85aec"/><rect x="46.50" y="7.96" width="0.82" height="8.07" fill="#e85aec"/><rect x="47.50" y="5.92" width="0.82" height="12.16" fill="#e85aec"/><rect x="48.50" y="7.21" width="0.82" height="9.58" fill="#e85aec"/><rect x="49.50" y="8.13" width="0.82" height="7.74" fill="#e85aec"/><rect x="52.50" y="9.16" width="0.82" height="5.68" fill="#e85aec"/><rect x="53.50" y="7.40" width="0.82" height="9.20" fill="#e85aec"/><rect x="54.50" y="9.21" width="0.82" height="5.58" fill="#e85aec"/><rect x="55.50" y="9.47" width="0.82" height="5.06" fill="#e85aec"/><rect x="57.50" y="9.51" width="0.82" height="4.99" fill="#e85aec"/><rect x="58.50" y="6.40" width="0.82" height="11.20" fill="#e85aec"/><rect x="59.50" y="9.82" width="0.82" height="4.36" fill="#e85aec"/><rect x="60.50" y="9.59" width="0.82" height="4.83" fill="#e85aec"/><rect x="62.50" y="9.13" width="0.82" height="5.74" fill="#e85aec"/><rect x="63.50" y="7.00" width="0.82" height="10.00" fill="#e85aec"/><rect x="64.50" y="9.05" width="0.82" height="5.90" fill="#e85aec"/></g></svg>
<svg class="a" style="left:911.60px;top:306.20px;" width="70.60" height="24.00" viewBox="0 0 70.6 24"><rect x="0.5" y="0.5" width="69.60" height="23.00" rx="5" ry="5" fill="#ffffff" stroke="#ee96ef" stroke-width="1"/><g opacity="0.9"><rect x="2.5" y="11.55" width="65.60" height="0.9" fill="#e85aec" fill-opacity="0.75"/><rect x="2.50" y="9.30" width="0.82" height="5.39" fill="#e85aec"/><rect x="3.50" y="9.25" width="0.82" height="5.51" fill="#e85aec"/><rect x="4.50" y="8.86" width="0.82" height="6.27" fill="#e85aec"/><rect x="5.50" y="9.12" width="0.82" height="5.76" fill="#e85aec"/><rect x="6.50" y="8.98" width="0.82" height="6.04" fill="#e85aec"/><rect x="9.50" y="8.50" width="0.82" height="7.00" fill="#e85aec"/><rect x="10.50" y="10.20" width="0.82" height="3.61" fill="#e85aec"/><rect x="12.50" y="9.09" width="0.82" height="5.81" fill="#e85aec"/><rect x="13.50" y="5.00" width="0.82" height="14.00" fill="#e85aec"/><rect x="14.50" y="9.03" width="0.82" height="5.93" fill="#e85aec"/><rect x="17.50" y="10.44" width="0.82" height="3.12" fill="#e85aec"/><rect x="18.50" y="10.60" width="0.82" height="2.80" fill="#e85aec"/><rect x="21.50" y="9.12" width="0.82" height="5.76" fill="#e85aec"/><rect x="22.50" y="3.00" width="0.82" height="18.00" fill="#e85aec"/><rect x="23.50" y="9.03" width="0.82" height="5.94" fill="#e85aec"/><rect x="24.50" y="3.45" width="0.82" height="17.10" fill="#e85aec"/><rect x="28.50" y="10.68" width="0.82" height="2.65" fill="#e85aec"/><rect x="29.50" y="10.64" width="0.82" height="2.71" fill="#e85aec"/><rect x="33.50" y="7.94" width="0.82" height="8.13" fill="#e85aec"/><rect x="34.50" y="3.80" width="0.82" height="16.40" fill="#e85aec"/><rect x="35.50" y="8.47" width="0.82" height="7.06" fill="#e85aec"/><rect x="36.50" y="4.21" width="0.82" height="15.58" fill="#e85aec"/><rect x="37.50" y="8.54" width="0.82" height="6.92" fill="#e85aec"/><rect x="40.50" y="10.51" width="0.82" height="2.99" fill="#e85aec"/><rect x="41.50" y="10.77" width="0.82" height="2.47" fill="#e85aec"/><rect x="43.50" y="8.01" width="0.82" height="7.99" fill="#e85aec"/><rect x="44.50" y="8.14" width="0.82" height="7.72" fill="#e85aec"/><rect x="45.50" y="8.11" width="0.82" height="7.77" fill="#e85aec"/><rect x="46.50" y="5.60" width="0.82" height="12.80" fill="#e85aec"/><rect x="47.50" y="7.82" width="0.82" height="8.36" fill="#e85aec"/><rect x="48.50" y="5.92" width="0.82" height="12.16" fill="#e85aec"/><rect x="49.50" y="7.86" width="0.82" height="8.27" fill="#e85aec"/><rect x="52.50" y="9.04" width="0.82" height="5.91" fill="#e85aec"/><rect x="53.50" y="7.40" width="0.82" height="9.20" fill="#e85aec"/><rect x="54.50" y="9.11" width="0.82" height="5.78" fill="#e85aec"/><rect x="55.50" y="9.16" width="0.82" height="5.69" fill="#e85aec"/><rect x="57.50" y="9.62" width="0.82" height="4.75" fill="#e85aec"/><rect x="58.50" y="6.40" width="0.82" height="11.20" fill="#e85aec"/><rect x="59.50" y="9.52" width="0.82" height="4.96" fill="#e85aec"/><rect x="60.50" y="9.61" width="0.82" height="4.77" fill="#e85aec"/><rect x="62.50" y="9.12" width="0.82" height="5.75" fill="#e85aec"/><rect x="63.50" y="7.00" width="0.82" height="10.00" fill="#e85aec"/><rect x="64.50" y="9.11" width="0.82" height="5.77" fill="#e85aec"/></g></svg>
<svg class="a" style="left:986.20px;top:306.20px;" width="70.60" height="24.00" viewBox="0 0 70.6 24"><rect x="0.5" y="0.5" width="69.60" height="23.00" rx="5" ry="5" fill="#fbcdfb" stroke="#ee96ef" stroke-width="1"/><g opacity="0.95"><rect x="2.5" y="11.55" width="65.60" height="0.9" fill="#e85aec" fill-opacity="0.75"/><rect x="3.50" y="9.04" width="0.82" height="5.93" fill="#e85aec"/><rect x="4.50" y="8.92" width="0.82" height="6.17" fill="#e85aec"/><rect x="5.50" y="9.26" width="0.82" height="5.47" fill="#e85aec"/><rect x="6.50" y="9.02" width="0.82" height="5.95" fill="#e85aec"/><rect x="7.50" y="8.87" width="0.82" height="6.26" fill="#e85aec"/><rect x="10.50" y="8.50" width="0.82" height="7.00" fill="#e85aec"/><rect x="11.50" y="10.33" width="0.82" height="3.35" fill="#e85aec"/><rect x="13.50" y="9.21" width="0.82" height="5.58" fill="#e85aec"/><rect x="14.50" y="5.00" width="0.82" height="14.00" fill="#e85aec"/><rect x="15.50" y="9.30" width="0.82" height="5.40" fill="#e85aec"/><rect x="18.50" y="10.41" width="0.82" height="3.18" fill="#e85aec"/><rect x="19.50" y="10.55" width="0.82" height="2.90" fill="#e85aec"/><rect x="22.50" y="8.80" width="0.82" height="6.40" fill="#e85aec"/><rect x="23.50" y="3.00" width="0.82" height="18.00" fill="#e85aec"/><rect x="24.50" y="8.66" width="0.82" height="6.68" fill="#e85aec"/><rect x="25.50" y="3.45" width="0.82" height="17.10" fill="#e85aec"/><rect x="29.50" y="10.79" width="0.82" height="2.41" fill="#e85aec"/><rect x="30.50" y="10.74" width="0.82" height="2.52" fill="#e85aec"/><rect x="34.50" y="8.60" width="0.82" height="6.81" fill="#e85aec"/><rect x="35.50" y="3.80" width="0.82" height="16.40" fill="#e85aec"/><rect x="36.50" y="8.02" width="0.82" height="7.96" fill="#e85aec"/><rect x="37.50" y="4.21" width="0.82" height="15.58" fill="#e85aec"/><rect x="38.50" y="7.93" width="0.82" height="8.14" fill="#e85aec"/><rect x="41.50" y="10.52" width="0.82" height="2.96" fill="#e85aec"/><rect x="42.50" y="10.63" width="0.82" height="2.73" fill="#e85aec"/><rect x="44.50" y="7.51" width="0.82" height="8.99" fill="#e85aec"/><rect x="45.50" y="8.05" width="0.82" height="7.91" fill="#e85aec"/><rect x="46.50" y="5.60" width="0.82" height="12.80" fill="#e85aec"/><rect x="47.50" y="7.22" width="0.82" height="9.56" fill="#e85aec"/><rect x="48.50" y="5.92" width="0.82" height="12.16" fill="#e85aec"/><rect x="49.50" y="7.96" width="0.82" height="8.09" fill="#e85aec"/><rect x="50.50" y="7.30" width="0.82" height="9.40" fill="#e85aec"/><rect x="53.50" y="9.15" width="0.82" height="5.70" fill="#e85aec"/><rect x="54.50" y="7.40" width="0.82" height="9.20" fill="#e85aec"/><rect x="55.50" y="9.41" width="0.82" height="5.19" fill="#e85aec"/><rect x="56.50" y="9.45" width="0.82" height="5.09" fill="#e85aec"/><rect x="58.50" y="9.78" width="0.82" height="4.44" fill="#e85aec"/><rect x="59.50" y="6.40" width="0.82" height="11.20" fill="#e85aec"/><rect x="60.50" y="9.65" width="0.82" height="4.71" fill="#e85aec"/><rect x="61.50" y="9.76" width="0.82" height="4.48" fill="#e85aec"/><rect x="63.50" y="9.01" width="0.82" height="5.98" fill="#e85aec"/><rect x="64.50" y="7.00" width="0.82" height="10.00" fill="#e85aec"/><rect x="65.50" y="9.21" width="0.82" height="5.59" fill="#e85aec"/></g><g transform="translate(54.60,7.40)"><polygon points="4.5,0.2 5.6,3.3 8.9,3.4 6.3,5.4 7.2,8.6 4.5,6.7 1.8,8.6 2.7,5.4 0.1,3.4 3.4,3.3" fill="#111"/></g></svg>
<span id="t55" class="t" style="left:762.50px;top:349.90px;font-size:9.50px;line-height:11.40px;color:#202124;font-weight:400;letter-spacing:0.571px;-webkit-text-stroke:0.22px #202124;">Vocal harmony</span>
<svg class="a" style="left:841.40px;top:350.20px;" width="9.40" height="9.40" viewBox="0 0 9.4 9.4"><path d="M1 8.6L1.4 6.6L6.2 1.8a1 1 0 0 1 1.6 1.6L3 8.2Z" fill="none" stroke="#202124" stroke-width="0.95" stroke-linejoin="round"/><path d="M5.6 2.4L7.2 4" stroke="#202124" stroke-width="0.95"/><path d="M6 2L7.4 0.9L8.7 2.2L7.6 3.6Z" fill="#202124"/></svg>
<svg class="a" style="left:1044.90px;top:351.30px;" width="7.20" height="7.00" viewBox="0 0 7.2 7"><path d="M1 2.2L3.6 4.8L6.2 2.2" fill="none" stroke="#202124" stroke-width="1.15"/></svg>
<span id="t56" class="t" style="left:762.50px;top:362.74px;font-size:8.60px;line-height:10.32px;color:#72767b;font-weight:400;letter-spacing:0.011px;">TRANSFORM, 5 MINS AGO</span>
<span id="t57" class="t" style="left:884.00px;top:362.74px;font-size:8.60px;line-height:10.32px;color:#72767b;font-weight:400;letter-spacing:-0.400px;">BPM</span>
<span id="t58" class="t" style="left:904.60px;top:362.74px;font-size:8.60px;line-height:10.32px;color:#3c4043;font-weight:400;letter-spacing:-0.372px;">120</span>
<svg class="a" style="left:762.30px;top:378.30px;" width="70.60" height="24.00" viewBox="0 0 70.6 24"><rect x="0.5" y="0.5" width="69.60" height="23.00" rx="5" ry="5" fill="#ffffff" stroke="#5fd6bd" stroke-width="1"/><g opacity="0.9"><rect x="2.5" y="11.55" width="65.60" height="0.9" fill="#2fcbb0" fill-opacity="0.75"/><rect x="8.50" y="9.15" width="0.82" height="5.70" fill="#2fcbb0"/><rect x="9.50" y="6.92" width="0.82" height="10.16" fill="#2fcbb0"/><rect x="10.50" y="6.29" width="0.82" height="11.42" fill="#2fcbb0"/><rect x="11.50" y="5.45" width="0.82" height="13.09" fill="#2fcbb0"/><rect x="12.50" y="4.57" width="0.82" height="14.86" fill="#2fcbb0"/><rect x="13.50" y="4.66" width="0.82" height="14.69" fill="#2fcbb0"/><rect x="14.50" y="5.17" width="0.82" height="13.67" fill="#2fcbb0"/><rect x="15.50" y="5.36" width="0.82" height="13.29" fill="#2fcbb0"/><rect x="16.50" y="5.66" width="0.82" height="12.67" fill="#2fcbb0"/><rect x="17.50" y="7.01" width="0.82" height="9.99" fill="#2fcbb0"/><rect x="18.50" y="9.01" width="0.82" height="5.98" fill="#2fcbb0"/><rect x="20.50" y="8.02" width="0.82" height="7.96" fill="#2fcbb0"/><rect x="21.50" y="6.94" width="0.82" height="10.12" fill="#2fcbb0"/><rect x="22.50" y="5.98" width="0.82" height="12.03" fill="#2fcbb0"/><rect x="23.50" y="5.85" width="0.82" height="12.29" fill="#2fcbb0"/><rect x="24.50" y="6.29" width="0.82" height="11.42" fill="#2fcbb0"/><rect x="25.50" y="6.95" width="0.82" height="10.09" fill="#2fcbb0"/><rect x="26.50" y="9.31" width="0.82" height="5.38" fill="#2fcbb0"/><rect x="30.50" y="9.79" width="0.82" height="4.43" fill="#2fcbb0"/><rect x="31.50" y="7.08" width="0.82" height="9.84" fill="#2fcbb0"/><rect x="32.50" y="5.06" width="0.82" height="13.88" fill="#2fcbb0"/><rect x="33.50" y="4.72" width="0.82" height="14.56" fill="#2fcbb0"/><rect x="34.50" y="3.83" width="0.82" height="16.33" fill="#2fcbb0"/><rect x="35.50" y="3.23" width="0.82" height="17.54" fill="#2fcbb0"/><rect x="36.50" y="3.11" width="0.82" height="17.78" fill="#2fcbb0"/><rect x="37.50" y="3.98" width="0.82" height="16.04" fill="#2fcbb0"/><rect x="38.50" y="3.73" width="0.82" height="16.54" fill="#2fcbb0"/><rect x="39.50" y="4.51" width="0.82" height="14.99" fill="#2fcbb0"/><rect x="40.50" y="6.01" width="0.82" height="11.98" fill="#2fcbb0"/><rect x="41.50" y="7.62" width="0.82" height="8.76" fill="#2fcbb0"/><rect x="43.50" y="8.60" width="0.82" height="6.80" fill="#2fcbb0"/><rect x="44.50" y="6.51" width="0.82" height="10.97" fill="#2fcbb0"/><rect x="45.50" y="5.69" width="0.82" height="12.61" fill="#2fcbb0"/><rect x="46.50" y="5.56" width="0.82" height="12.88" fill="#2fcbb0"/><rect x="47.50" y="5.98" width="0.82" height="12.04" fill="#2fcbb0"/><rect x="48.50" y="8.18" width="0.82" height="7.64" fill="#2fcbb0"/><rect x="49.50" y="8.24" width="0.82" height="7.53" fill="#2fcbb0"/><rect x="50.50" y="8.68" width="0.82" height="6.65" fill="#2fcbb0"/><rect x="51.50" y="9.39" width="0.82" height="5.21" fill="#2fcbb0"/><rect x="57.50" y="10.88" width="0.82" height="2.23" fill="#2fcbb0"/><rect x="58.50" y="10.58" width="0.82" height="2.84" fill="#2fcbb0"/><rect x="59.50" y="10.55" width="0.82" height="2.90" fill="#2fcbb0"/><rect x="60.50" y="10.51" width="0.82" height="2.98" fill="#2fcbb0"/><rect x="61.50" y="10.79" width="0.82" height="2.41" fill="#2fcbb0"/><rect x="62.50" y="11.24" width="0.82" height="1.52" fill="#2fcbb0"/></g></svg>
<svg class="a" style="left:837.00px;top:378.30px;" width="70.60" height="24.00" viewBox="0 0 70.6 24"><rect x="0.5" y="0.5" width="69.60" height="23.00" rx="5" ry="5" fill="#c5f1e7" stroke="#5fd6bd" stroke-width="1"/><g opacity="0.95"><rect x="2.5" y="11.55" width="65.60" height="0.9" fill="#2fcbb0" fill-opacity="0.75"/><rect x="2.50" y="6.50" width="0.82" height="11.00" fill="#2fcbb0"/><rect x="3.50" y="6.50" width="0.82" height="11.00" fill="#2fcbb0"/><rect x="4.50" y="9.43" width="0.82" height="5.15" fill="#2fcbb0"/><rect x="5.50" y="9.80" width="0.82" height="4.40" fill="#2fcbb0"/><rect x="6.50" y="10.18" width="0.82" height="3.65" fill="#2fcbb0"/><rect x="7.50" y="10.55" width="0.82" height="2.90" fill="#2fcbb0"/><rect x="8.50" y="10.93" width="0.82" height="2.15" fill="#2fcbb0"/><rect x="9.50" y="8.72" width="0.82" height="6.55" fill="#2fcbb0"/><rect x="10.50" y="7.77" width="0.82" height="8.46" fill="#2fcbb0"/><rect x="11.50" y="7.25" width="0.82" height="9.50" fill="#2fcbb0"/><rect x="12.50" y="7.02" width="0.82" height="9.96" fill="#2fcbb0"/><rect x="13.50" y="7.04" width="0.82" height="9.91" fill="#2fcbb0"/><rect x="14.50" y="7.33" width="0.82" height="9.35" fill="#2fcbb0"/><rect x="15.50" y="7.92" width="0.82" height="8.16" fill="#2fcbb0"/><rect x="16.50" y="9.00" width="0.82" height="6.00" fill="#2fcbb0"/><rect x="20.50" y="3.40" width="0.82" height="17.20" fill="#2fcbb0"/><rect x="21.50" y="7.83" width="0.82" height="8.35" fill="#2fcbb0"/><rect x="22.50" y="8.41" width="0.82" height="7.18" fill="#2fcbb0"/><rect x="23.50" y="9.00" width="0.82" height="6.01" fill="#2fcbb0"/><rect x="24.50" y="9.58" width="0.82" height="4.83" fill="#2fcbb0"/><rect x="25.50" y="10.17" width="0.82" height="3.66" fill="#2fcbb0"/><rect x="26.50" y="10.75" width="0.82" height="2.49" fill="#2fcbb0"/><rect x="27.50" y="11.34" width="0.82" height="1.32" fill="#2fcbb0"/><rect x="31.50" y="3.40" width="0.82" height="17.20" fill="#2fcbb0"/><rect x="32.50" y="3.40" width="0.82" height="17.20" fill="#2fcbb0"/><rect x="33.50" y="8.07" width="0.82" height="7.85" fill="#2fcbb0"/><rect x="34.50" y="8.66" width="0.82" height="6.68" fill="#2fcbb0"/><rect x="35.50" y="9.25" width="0.82" height="5.51" fill="#2fcbb0"/><rect x="36.50" y="9.83" width="0.82" height="4.33" fill="#2fcbb0"/><rect x="37.50" y="10.42" width="0.82" height="3.16" fill="#2fcbb0"/><rect x="38.50" y="11.00" width="0.82" height="1.99" fill="#2fcbb0"/><rect x="44.50" y="3.40" width="0.82" height="17.20" fill="#2fcbb0"/><rect x="45.50" y="3.40" width="0.82" height="17.20" fill="#2fcbb0"/><rect x="46.50" y="7.98" width="0.82" height="8.04" fill="#2fcbb0"/><rect x="47.50" y="8.57" width="0.82" height="6.86" fill="#2fcbb0"/><rect x="48.50" y="9.15" width="0.82" height="5.69" fill="#2fcbb0"/><rect x="49.50" y="9.74" width="0.82" height="4.52" fill="#2fcbb0"/><rect x="50.50" y="10.33" width="0.82" height="3.35" fill="#2fcbb0"/><rect x="51.50" y="10.91" width="0.82" height="2.18" fill="#2fcbb0"/><rect x="52.50" y="11.50" width="0.82" height="1.00" fill="#2fcbb0"/><rect x="55.50" y="3.40" width="0.82" height="17.20" fill="#2fcbb0"/><rect x="56.50" y="7.75" width="0.82" height="8.50" fill="#2fcbb0"/><rect x="57.50" y="8.34" width="0.82" height="7.33" fill="#2fcbb0"/><rect x="58.50" y="8.92" width="0.82" height="6.15" fill="#2fcbb0"/><rect x="59.50" y="8.86" width="0.82" height="6.28" fill="#2fcbb0"/><rect x="60.50" y="7.10" width="0.82" height="9.80" fill="#2fcbb0"/><rect x="61.50" y="6.22" width="0.82" height="11.56" fill="#2fcbb0"/><rect x="62.50" y="5.84" width="0.82" height="12.32" fill="#2fcbb0"/><rect x="63.50" y="5.86" width="0.82" height="12.28" fill="#2fcbb0"/><rect x="64.50" y="6.28" width="0.82" height="11.43" fill="#2fcbb0"/><rect x="65.50" y="7.22" width="0.82" height="9.55" fill="#2fcbb0"/><rect x="66.50" y="9.14" width="0.82" height="5.71" fill="#2fcbb0"/></g><g transform="translate(54.60,7.40)"><polygon points="4.5,0.2 5.6,3.3 8.9,3.4 6.3,5.4 7.2,8.6 4.5,6.7 1.8,8.6 2.7,5.4 0.1,3.4 3.4,3.3" fill="#111"/></g></svg>
<svg class="a" style="left:911.60px;top:378.30px;" width="70.60" height="24.00" viewBox="0 0 70.6 24"><rect x="0.5" y="0.5" width="69.60" height="23.00" rx="5" ry="5" fill="#ffffff" stroke="#5fd6bd" stroke-width="1"/><g opacity="0.9"><rect x="2.5" y="11.55" width="65.60" height="0.9" fill="#2fcbb0" fill-opacity="0.75"/><rect x="3.50" y="6.50" width="0.82" height="11.00" fill="#2fcbb0"/><rect x="4.50" y="9.24" width="0.82" height="5.52" fill="#2fcbb0"/><rect x="5.50" y="9.61" width="0.82" height="4.78" fill="#2fcbb0"/><rect x="6.50" y="9.99" width="0.82" height="4.03" fill="#2fcbb0"/><rect x="7.50" y="10.36" width="0.82" height="3.28" fill="#2fcbb0"/><rect x="8.50" y="10.74" width="0.82" height="2.53" fill="#2fcbb0"/><rect x="9.50" y="8.72" width="0.82" height="6.55" fill="#2fcbb0"/><rect x="10.50" y="7.77" width="0.82" height="8.46" fill="#2fcbb0"/><rect x="11.50" y="7.25" width="0.82" height="9.50" fill="#2fcbb0"/><rect x="12.50" y="7.02" width="0.82" height="9.96" fill="#2fcbb0"/><rect x="13.50" y="7.04" width="0.82" height="9.91" fill="#2fcbb0"/><rect x="14.50" y="7.33" width="0.82" height="9.35" fill="#2fcbb0"/><rect x="15.50" y="7.92" width="0.82" height="8.16" fill="#2fcbb0"/><rect x="16.50" y="9.00" width="0.82" height="6.00" fill="#2fcbb0"/><rect x="19.50" y="3.40" width="0.82" height="17.20" fill="#2fcbb0"/><rect x="20.50" y="3.40" width="0.82" height="17.20" fill="#2fcbb0"/><rect x="21.50" y="8.06" width="0.82" height="7.88" fill="#2fcbb0"/><rect x="22.50" y="8.65" width="0.82" height="6.71" fill="#2fcbb0"/><rect x="23.50" y="9.23" width="0.82" height="5.54" fill="#2fcbb0"/><rect x="24.50" y="9.82" width="0.82" height="4.36" fill="#2fcbb0"/><rect x="25.50" y="10.40" width="0.82" height="3.19" fill="#2fcbb0"/><rect x="26.50" y="10.99" width="0.82" height="2.02" fill="#2fcbb0"/><rect x="31.50" y="3.40" width="0.82" height="17.20" fill="#2fcbb0"/><rect x="32.50" y="3.40" width="0.82" height="17.20" fill="#2fcbb0"/><rect x="33.50" y="7.95" width="0.82" height="8.10" fill="#2fcbb0"/><rect x="34.50" y="8.54" width="0.82" height="6.93" fill="#2fcbb0"/><rect x="35.50" y="9.12" width="0.82" height="5.76" fill="#2fcbb0"/><rect x="36.50" y="9.71" width="0.82" height="4.58" fill="#2fcbb0"/><rect x="37.50" y="10.29" width="0.82" height="3.41" fill="#2fcbb0"/><rect x="38.50" y="10.88" width="0.82" height="2.24" fill="#2fcbb0"/><rect x="39.50" y="11.47" width="0.82" height="1.07" fill="#2fcbb0"/><rect x="43.50" y="3.40" width="0.82" height="17.20" fill="#2fcbb0"/><rect x="44.50" y="3.40" width="0.82" height="17.20" fill="#2fcbb0"/><rect x="45.50" y="8.19" width="0.82" height="7.63" fill="#2fcbb0"/><rect x="46.50" y="8.77" width="0.82" height="6.46" fill="#2fcbb0"/><rect x="47.50" y="9.36" width="0.82" height="5.29" fill="#2fcbb0"/><rect x="48.50" y="9.94" width="0.82" height="4.11" fill="#2fcbb0"/><rect x="49.50" y="10.53" width="0.82" height="2.94" fill="#2fcbb0"/><rect x="50.50" y="11.12" width="0.82" height="1.77" fill="#2fcbb0"/><rect x="55.50" y="3.40" width="0.82" height="17.20" fill="#2fcbb0"/><rect x="56.50" y="3.40" width="0.82" height="17.20" fill="#2fcbb0"/><rect x="57.50" y="8.16" width="0.82" height="7.69" fill="#2fcbb0"/><rect x="58.50" y="8.74" width="0.82" height="6.52" fill="#2fcbb0"/><rect x="59.50" y="8.86" width="0.82" height="6.28" fill="#2fcbb0"/><rect x="60.50" y="7.10" width="0.82" height="9.80" fill="#2fcbb0"/><rect x="61.50" y="6.22" width="0.82" height="11.56" fill="#2fcbb0"/><rect x="62.50" y="5.84" width="0.82" height="12.32" fill="#2fcbb0"/><rect x="63.50" y="5.86" width="0.82" height="12.28" fill="#2fcbb0"/><rect x="64.50" y="6.28" width="0.82" height="11.43" fill="#2fcbb0"/><rect x="65.50" y="7.22" width="0.82" height="9.55" fill="#2fcbb0"/><rect x="66.50" y="9.14" width="0.82" height="5.71" fill="#2fcbb0"/></g></svg>
<svg class="a" style="left:986.20px;top:378.30px;" width="70.60" height="24.00" viewBox="0 0 70.6 24"><rect x="0.5" y="0.5" width="69.60" height="23.00" rx="5" ry="5" fill="#ffffff" stroke="#5fd6bd" stroke-width="1"/><g opacity="0.9"><rect x="2.5" y="11.55" width="65.60" height="0.9" fill="#2fcbb0" fill-opacity="0.75"/><rect x="2.50" y="6.50" width="0.82" height="11.00" fill="#2fcbb0"/><rect x="3.50" y="9.30" width="0.82" height="5.40" fill="#2fcbb0"/><rect x="4.50" y="9.68" width="0.82" height="4.65" fill="#2fcbb0"/><rect x="5.50" y="10.05" width="0.82" height="3.90" fill="#2fcbb0"/><rect x="6.50" y="10.43" width="0.82" height="3.15" fill="#2fcbb0"/><rect x="7.50" y="10.80" width="0.82" height="2.40" fill="#2fcbb0"/><rect x="8.50" y="10.95" width="0.82" height="2.10" fill="#2fcbb0"/><rect x="9.50" y="8.72" width="0.82" height="6.55" fill="#2fcbb0"/><rect x="10.50" y="7.77" width="0.82" height="8.46" fill="#2fcbb0"/><rect x="11.50" y="7.25" width="0.82" height="9.50" fill="#2fcbb0"/><rect x="12.50" y="7.02" width="0.82" height="9.96" fill="#2fcbb0"/><rect x="13.50" y="7.04" width="0.82" height="9.91" fill="#2fcbb0"/><rect x="14.50" y="7.33" width="0.82" height="9.35" fill="#2fcbb0"/><rect x="15.50" y="7.92" width="0.82" height="8.16" fill="#2fcbb0"/><rect x="16.50" y="9.00" width="0.82" height="6.00" fill="#2fcbb0"/><rect x="20.50" y="3.40" width="0.82" height="17.20" fill="#2fcbb0"/><rect x="21.50" y="3.40" width="0.82" height="17.20" fill="#2fcbb0"/><rect x="22.50" y="7.88" width="0.82" height="8.24" fill="#2fcbb0"/><rect x="23.50" y="8.47" width="0.82" height="7.07" fill="#2fcbb0"/><rect x="24.50" y="9.05" width="0.82" height="5.90" fill="#2fcbb0"/><rect x="25.50" y="9.64" width="0.82" height="4.73" fill="#2fcbb0"/><rect x="26.50" y="10.22" width="0.82" height="3.55" fill="#2fcbb0"/><rect x="27.50" y="10.81" width="0.82" height="2.38" fill="#2fcbb0"/><rect x="28.50" y="11.39" width="0.82" height="1.21" fill="#2fcbb0"/><rect x="31.50" y="3.40" width="0.82" height="17.20" fill="#2fcbb0"/><rect x="32.50" y="3.40" width="0.82" height="17.20" fill="#2fcbb0"/><rect x="33.50" y="8.10" width="0.82" height="7.80" fill="#2fcbb0"/><rect x="34.50" y="8.69" width="0.82" height="6.63" fill="#2fcbb0"/><rect x="35.50" y="9.27" width="0.82" height="5.46" fill="#2fcbb0"/><rect x="36.50" y="9.86" width="0.82" height="4.28" fill="#2fcbb0"/><rect x="37.50" y="10.44" width="0.82" height="3.11" fill="#2fcbb0"/><rect x="38.50" y="11.03" width="0.82" height="1.94" fill="#2fcbb0"/><rect x="43.50" y="3.40" width="0.82" height="17.20" fill="#2fcbb0"/><rect x="44.50" y="3.40" width="0.82" height="17.20" fill="#2fcbb0"/><rect x="45.50" y="7.91" width="0.82" height="8.18" fill="#2fcbb0"/><rect x="46.50" y="8.50" width="0.82" height="7.00" fill="#2fcbb0"/><rect x="47.50" y="9.08" width="0.82" height="5.83" fill="#2fcbb0"/><rect x="48.50" y="9.67" width="0.82" height="4.66" fill="#2fcbb0"/><rect x="49.50" y="10.26" width="0.82" height="3.49" fill="#2fcbb0"/><rect x="50.50" y="10.84" width="0.82" height="2.32" fill="#2fcbb0"/><rect x="51.50" y="11.43" width="0.82" height="1.14" fill="#2fcbb0"/><rect x="55.50" y="3.40" width="0.82" height="17.20" fill="#2fcbb0"/><rect x="56.50" y="7.64" width="0.82" height="8.71" fill="#2fcbb0"/><rect x="57.50" y="8.23" width="0.82" height="7.54" fill="#2fcbb0"/><rect x="58.50" y="8.82" width="0.82" height="6.37" fill="#2fcbb0"/><rect x="59.50" y="8.86" width="0.82" height="6.28" fill="#2fcbb0"/><rect x="60.50" y="7.10" width="0.82" height="9.80" fill="#2fcbb0"/><rect x="61.50" y="6.22" width="0.82" height="11.56" fill="#2fcbb0"/><rect x="62.50" y="5.84" width="0.82" height="12.32" fill="#2fcbb0"/><rect x="63.50" y="5.86" width="0.82" height="12.28" fill="#2fcbb0"/><rect x="64.50" y="6.28" width="0.82" height="11.43" fill="#2fcbb0"/><rect x="65.50" y="7.22" width="0.82" height="9.55" fill="#2fcbb0"/><rect x="66.50" y="9.14" width="0.82" height="5.71" fill="#2fcbb0"/></g></svg>
<div class="a" style="left:756.00px;top:418.00px;width:307.00px;height:200.00px;border:1px solid #c08ff3;border-radius:7px;background:#fff;"></div>
<span id="t59" class="t" style="left:762.50px;top:428.40px;font-size:9.50px;line-height:11.40px;color:#202124;font-weight:400;letter-spacing:0.491px;-webkit-text-stroke:0.22px #202124;">Lost Love intro fix</span>
<svg class="a" style="left:854.80px;top:428.70px;" width="9.40" height="9.40" viewBox="0 0 9.4 9.4"><path d="M1 8.6L1.4 6.6L6.2 1.8a1 1 0 0 1 1.6 1.6L3 8.2Z" fill="none" stroke="#202124" stroke-width="0.95" stroke-linejoin="round"/><path d="M5.6 2.4L7.2 4" stroke="#202124" stroke-width="0.95"/><path d="M6 2L7.4 0.9L8.7 2.2L7.6 3.6Z" fill="#202124"/></svg>
<svg class="a" style="left:1044.90px;top:429.80px;" width="7.20" height="7.00" viewBox="0 0 7.2 7"><path d="M1 2.2L3.6 4.8L6.2 2.2" fill="none" stroke="#202124" stroke-width="1.15"/></svg>
<span id="t60" class="t" style="left:762.50px;top:441.24px;font-size:8.60px;line-height:10.32px;color:#72767b;font-weight:400;letter-spacing:0.146px;">INPAINT, 8 MINS AGO</span>
<span id="t61" class="t" style="left:862.90px;top:441.24px;font-size:8.60px;line-height:10.32px;color:#72767b;font-weight:400;letter-spacing:-0.400px;">BPM</span>
<span id="t62" class="t" style="left:883.50px;top:441.24px;font-size:8.60px;line-height:10.32px;color:#3c4043;font-weight:400;letter-spacing:-0.372px;">120</span>
<svg class="a" style="left:762.30px;top:457.10px;" width="70.60" height="24.00" viewBox="0 0 70.6 24"><rect x="0.5" y="0.5" width="69.60" height="23.00" rx="5" ry="5" fill="#ffffff" stroke="#bd83f3" stroke-width="1"/><g opacity="0.9"><rect x="2.5" y="11.55" width="65.60" height="0.9" fill="#a965f2" fill-opacity="0.75"/><rect x="2.50" y="6.50" width="0.82" height="11.00" fill="#a965f2"/><rect x="3.50" y="6.50" width="0.82" height="11.00" fill="#a965f2"/><rect x="4.50" y="9.34" width="0.82" height="5.32" fill="#a965f2"/><rect x="5.50" y="9.72" width="0.82" height="4.57" fill="#a965f2"/><rect x="6.50" y="10.09" width="0.82" height="3.82" fill="#a965f2"/><rect x="7.50" y="10.47" width="0.82" height="3.07" fill="#a965f2"/><rect x="8.50" y="10.84" width="0.82" height="2.32" fill="#a965f2"/><rect x="9.50" y="8.72" width="0.82" height="6.55" fill="#a965f2"/><rect x="10.50" y="7.77" width="0.82" height="8.46" fill="#a965f2"/><rect x="11.50" y="7.25" width="0.82" height="9.50" fill="#a965f2"/><rect x="12.50" y="7.02" width="0.82" height="9.96" fill="#a965f2"/><rect x="13.50" y="7.04" width="0.82" height="9.91" fill="#a965f2"/><rect x="14.50" y="7.33" width="0.82" height="9.35" fill="#a965f2"/><rect x="15.50" y="7.92" width="0.82" height="8.16" fill="#a965f2"/><rect x="16.50" y="9.00" width="0.82" height="6.00" fill="#a965f2"/><rect x="20.50" y="3.40" width="0.82" height="17.20" fill="#a965f2"/><rect x="21.50" y="7.78" width="0.82" height="8.43" fill="#a965f2"/><rect x="22.50" y="8.37" width="0.82" height="7.26" fill="#a965f2"/><rect x="23.50" y="8.96" width="0.82" height="6.09" fill="#a965f2"/><rect x="24.50" y="9.54" width="0.82" height="4.91" fill="#a965f2"/><rect x="25.50" y="10.13" width="0.82" height="3.74" fill="#a965f2"/><rect x="26.50" y="10.71" width="0.82" height="2.57" fill="#a965f2"/><rect x="27.50" y="11.30" width="0.82" height="1.40" fill="#a965f2"/><rect x="32.50" y="3.40" width="0.82" height="17.20" fill="#a965f2"/><rect x="33.50" y="3.40" width="0.82" height="17.20" fill="#a965f2"/><rect x="34.50" y="8.12" width="0.82" height="7.76" fill="#a965f2"/><rect x="35.50" y="8.71" width="0.82" height="6.58" fill="#a965f2"/><rect x="36.50" y="9.29" width="0.82" height="5.41" fill="#a965f2"/><rect x="37.50" y="9.88" width="0.82" height="4.24" fill="#a965f2"/><rect x="38.50" y="10.47" width="0.82" height="3.07" fill="#a965f2"/><rect x="39.50" y="11.05" width="0.82" height="1.90" fill="#a965f2"/><rect x="43.50" y="3.40" width="0.82" height="17.20" fill="#a965f2"/><rect x="44.50" y="3.40" width="0.82" height="17.20" fill="#a965f2"/><rect x="45.50" y="8.16" width="0.82" height="7.67" fill="#a965f2"/><rect x="46.50" y="8.75" width="0.82" height="6.50" fill="#a965f2"/><rect x="47.50" y="9.34" width="0.82" height="5.33" fill="#a965f2"/><rect x="48.50" y="9.92" width="0.82" height="4.16" fill="#a965f2"/><rect x="49.50" y="10.51" width="0.82" height="2.99" fill="#a965f2"/><rect x="50.50" y="11.09" width="0.82" height="1.81" fill="#a965f2"/><rect x="54.50" y="3.40" width="0.82" height="17.20" fill="#a965f2"/><rect x="55.50" y="3.40" width="0.82" height="17.20" fill="#a965f2"/><rect x="56.50" y="7.87" width="0.82" height="8.26" fill="#a965f2"/><rect x="57.50" y="8.46" width="0.82" height="7.09" fill="#a965f2"/><rect x="58.50" y="9.04" width="0.82" height="5.92" fill="#a965f2"/><rect x="59.50" y="8.86" width="0.82" height="6.28" fill="#a965f2"/><rect x="60.50" y="7.10" width="0.82" height="9.80" fill="#a965f2"/><rect x="61.50" y="6.22" width="0.82" height="11.56" fill="#a965f2"/><rect x="62.50" y="5.84" width="0.82" height="12.32" fill="#a965f2"/><rect x="63.50" y="5.86" width="0.82" height="12.28" fill="#a965f2"/><rect x="64.50" y="6.28" width="0.82" height="11.43" fill="#a965f2"/><rect x="65.50" y="7.22" width="0.82" height="9.55" fill="#a965f2"/><rect x="66.50" y="9.14" width="0.82" height="5.71" fill="#a965f2"/></g></svg>
<svg class="a" style="left:837.00px;top:457.10px;" width="70.60" height="24.00" viewBox="0 0 70.6 24"><rect x="0.5" y="0.5" width="69.60" height="23.00" rx="5" ry="5" fill="#ffffff" stroke="#bd83f3" stroke-width="1"/><g opacity="0.9"><rect x="2.5" y="11.55" width="65.60" height="0.9" fill="#a965f2" fill-opacity="0.75"/><rect x="2.50" y="6.50" width="0.82" height="11.00" fill="#a965f2"/><rect x="3.50" y="6.50" width="0.82" height="11.00" fill="#a965f2"/><rect x="4.50" y="9.53" width="0.82" height="4.95" fill="#a965f2"/><rect x="5.50" y="9.90" width="0.82" height="4.20" fill="#a965f2"/><rect x="6.50" y="10.28" width="0.82" height="3.45" fill="#a965f2"/><rect x="7.50" y="10.65" width="0.82" height="2.70" fill="#a965f2"/><rect x="8.50" y="10.95" width="0.82" height="2.10" fill="#a965f2"/><rect x="9.50" y="8.72" width="0.82" height="6.55" fill="#a965f2"/><rect x="10.50" y="7.77" width="0.82" height="8.46" fill="#a965f2"/><rect x="11.50" y="7.25" width="0.82" height="9.50" fill="#a965f2"/><rect x="12.50" y="7.02" width="0.82" height="9.96" fill="#a965f2"/><rect x="13.50" y="7.04" width="0.82" height="9.91" fill="#a965f2"/><rect x="14.50" y="7.33" width="0.82" height="9.35" fill="#a965f2"/><rect x="15.50" y="7.92" width="0.82" height="8.16" fill="#a965f2"/><rect x="16.50" y="9.00" width="0.82" height="6.00" fill="#a965f2"/><rect x="20.50" y="3.40" width="0.82" height="17.20" fill="#a965f2"/><rect x="21.50" y="3.40" width="0.82" height="17.20" fill="#a965f2"/><rect x="22.50" y="8.10" width="0.82" height="7.80" fill="#a965f2"/><rect x="23.50" y="8.69" width="0.82" height="6.63" fill="#a965f2"/><rect x="24.50" y="9.27" width="0.82" height="5.45" fill="#a965f2"/><rect x="25.50" y="9.86" width="0.82" height="4.28" fill="#a965f2"/><rect x="26.50" y="10.44" width="0.82" height="3.11" fill="#a965f2"/><rect x="27.50" y="11.03" width="0.82" height="1.94" fill="#a965f2"/><rect x="31.50" y="3.40" width="0.82" height="17.20" fill="#a965f2"/><rect x="32.50" y="3.40" width="0.82" height="17.20" fill="#a965f2"/><rect x="33.50" y="8.08" width="0.82" height="7.84" fill="#a965f2"/><rect x="34.50" y="8.67" width="0.82" height="6.67" fill="#a965f2"/><rect x="35.50" y="9.25" width="0.82" height="5.50" fill="#a965f2"/><rect x="36.50" y="9.84" width="0.82" height="4.33" fill="#a965f2"/><rect x="37.50" y="10.42" width="0.82" height="3.15" fill="#a965f2"/><rect x="38.50" y="11.01" width="0.82" height="1.98" fill="#a965f2"/><rect x="44.50" y="3.40" width="0.82" height="17.20" fill="#a965f2"/><rect x="45.50" y="3.40" width="0.82" height="17.20" fill="#a965f2"/><rect x="46.50" y="8.09" width="0.82" height="7.82" fill="#a965f2"/><rect x="47.50" y="8.67" width="0.82" height="6.65" fill="#a965f2"/><rect x="48.50" y="9.26" width="0.82" height="5.48" fill="#a965f2"/><rect x="49.50" y="9.85" width="0.82" height="4.31" fill="#a965f2"/><rect x="50.50" y="10.43" width="0.82" height="3.14" fill="#a965f2"/><rect x="51.50" y="11.02" width="0.82" height="1.96" fill="#a965f2"/><rect x="54.50" y="3.40" width="0.82" height="17.20" fill="#a965f2"/><rect x="55.50" y="3.40" width="0.82" height="17.20" fill="#a965f2"/><rect x="56.50" y="8.15" width="0.82" height="7.71" fill="#a965f2"/><rect x="57.50" y="8.73" width="0.82" height="6.53" fill="#a965f2"/><rect x="58.50" y="9.32" width="0.82" height="5.36" fill="#a965f2"/><rect x="59.50" y="8.86" width="0.82" height="6.28" fill="#a965f2"/><rect x="60.50" y="7.10" width="0.82" height="9.80" fill="#a965f2"/><rect x="61.50" y="6.22" width="0.82" height="11.56" fill="#a965f2"/><rect x="62.50" y="5.84" width="0.82" height="12.32" fill="#a965f2"/><rect x="63.50" y="5.86" width="0.82" height="12.28" fill="#a965f2"/><rect x="64.50" y="6.28" width="0.82" height="11.43" fill="#a965f2"/><rect x="65.50" y="7.22" width="0.82" height="9.55" fill="#a965f2"/><rect x="66.50" y="9.14" width="0.82" height="5.71" fill="#a965f2"/></g></svg>
<svg class="a" style="left:911.60px;top:457.10px;" width="70.60" height="24.00" viewBox="0 0 70.6 24"><rect x="0.5" y="0.5" width="69.60" height="23.00" rx="5" ry="5" fill="#e4cdfb" stroke="#bd83f3" stroke-width="1"/><g opacity="0.95"><rect x="2.5" y="11.55" width="65.60" height="0.9" fill="#a965f2" fill-opacity="0.75"/><rect x="3.50" y="6.50" width="0.82" height="11.00" fill="#a965f2"/><rect x="4.50" y="6.50" width="0.82" height="11.00" fill="#a965f2"/><rect x="5.50" y="9.36" width="0.82" height="5.27" fill="#a965f2"/><rect x="6.50" y="9.74" width="0.82" height="4.52" fill="#a965f2"/><rect x="7.50" y="10.11" width="0.82" height="3.77" fill="#a965f2"/><rect x="8.50" y="10.49" width="0.82" height="3.02" fill="#a965f2"/><rect x="9.50" y="8.72" width="0.82" height="6.55" fill="#a965f2"/><rect x="10.50" y="7.77" width="0.82" height="8.46" fill="#a965f2"/><rect x="11.50" y="7.25" width="0.82" height="9.50" fill="#a965f2"/><rect x="12.50" y="7.02" width="0.82" height="9.96" fill="#a965f2"/><rect x="13.50" y="7.04" width="0.82" height="9.91" fill="#a965f2"/><rect x="14.50" y="7.33" width="0.82" height="9.35" fill="#a965f2"/><rect x="15.50" y="7.92" width="0.82" height="8.16" fill="#a965f2"/><rect x="16.50" y="9.00" width="0.82" height="6.00" fill="#a965f2"/><rect x="19.50" y="3.40" width="0.82" height="17.20" fill="#a965f2"/><rect x="20.50" y="3.40" width="0.82" height="17.20" fill="#a965f2"/><rect x="21.50" y="8.03" width="0.82" height="7.95" fill="#a965f2"/><rect x="22.50" y="8.61" width="0.82" height="6.77" fill="#a965f2"/><rect x="23.50" y="9.20" width="0.82" height="5.60" fill="#a965f2"/><rect x="24.50" y="9.78" width="0.82" height="4.43" fill="#a965f2"/><rect x="25.50" y="10.37" width="0.82" height="3.26" fill="#a965f2"/><rect x="26.50" y="10.96" width="0.82" height="2.09" fill="#a965f2"/><rect x="32.50" y="3.40" width="0.82" height="17.20" fill="#a965f2"/><rect x="33.50" y="3.40" width="0.82" height="17.20" fill="#a965f2"/><rect x="34.50" y="8.02" width="0.82" height="7.96" fill="#a965f2"/><rect x="35.50" y="8.61" width="0.82" height="6.79" fill="#a965f2"/><rect x="36.50" y="9.19" width="0.82" height="5.61" fill="#a965f2"/><rect x="37.50" y="9.78" width="0.82" height="4.44" fill="#a965f2"/><rect x="38.50" y="10.37" width="0.82" height="3.27" fill="#a965f2"/><rect x="39.50" y="10.95" width="0.82" height="2.10" fill="#a965f2"/><rect x="43.50" y="3.40" width="0.82" height="17.20" fill="#a965f2"/><rect x="44.50" y="3.40" width="0.82" height="17.20" fill="#a965f2"/><rect x="45.50" y="7.89" width="0.82" height="8.22" fill="#a965f2"/><rect x="46.50" y="8.47" width="0.82" height="7.05" fill="#a965f2"/><rect x="47.50" y="9.06" width="0.82" height="5.88" fill="#a965f2"/><rect x="48.50" y="9.65" width="0.82" height="4.71" fill="#a965f2"/><rect x="49.50" y="10.23" width="0.82" height="3.54" fill="#a965f2"/><rect x="50.50" y="10.82" width="0.82" height="2.37" fill="#a965f2"/><rect x="51.50" y="11.40" width="0.82" height="1.19" fill="#a965f2"/><rect x="55.50" y="3.40" width="0.82" height="17.20" fill="#a965f2"/><rect x="56.50" y="3.40" width="0.82" height="17.20" fill="#a965f2"/><rect x="57.50" y="7.92" width="0.82" height="8.16" fill="#a965f2"/><rect x="58.50" y="8.51" width="0.82" height="6.99" fill="#a965f2"/><rect x="59.50" y="8.86" width="0.82" height="6.28" fill="#a965f2"/><rect x="60.50" y="7.10" width="0.82" height="9.80" fill="#a965f2"/><rect x="61.50" y="6.22" width="0.82" height="11.56" fill="#a965f2"/><rect x="62.50" y="5.84" width="0.82" height="12.32" fill="#a965f2"/><rect x="63.50" y="5.86" width="0.82" height="12.28" fill="#a965f2"/><rect x="64.50" y="6.28" width="0.82" height="11.43" fill="#a965f2"/><rect x="65.50" y="7.22" width="0.82" height="9.55" fill="#a965f2"/><rect x="66.50" y="9.14" width="0.82" height="5.71" fill="#a965f2"/></g><g transform="translate(54.60,7.40)"><polygon points="4.5,0.2 5.6,3.3 8.9,3.4 6.3,5.4 7.2,8.6 4.5,6.7 1.8,8.6 2.7,5.4 0.1,3.4 3.4,3.3" fill="#111"/></g></svg>
<svg class="a" style="left:986.20px;top:457.10px;" width="70.60" height="24.00" viewBox="0 0 70.6 24"><rect x="0.5" y="0.5" width="69.60" height="23.00" rx="5" ry="5" fill="#ffffff" stroke="#bd83f3" stroke-width="1"/><g opacity="0.9"><rect x="2.5" y="11.55" width="65.60" height="0.9" fill="#a965f2" fill-opacity="0.75"/><rect x="3.50" y="6.50" width="0.82" height="11.00" fill="#a965f2"/><rect x="4.50" y="9.25" width="0.82" height="5.49" fill="#a965f2"/><rect x="5.50" y="9.63" width="0.82" height="4.74" fill="#a965f2"/><rect x="6.50" y="10.00" width="0.82" height="3.99" fill="#a965f2"/><rect x="7.50" y="10.38" width="0.82" height="3.24" fill="#a965f2"/><rect x="8.50" y="10.75" width="0.82" height="2.49" fill="#a965f2"/><rect x="9.50" y="8.72" width="0.82" height="6.55" fill="#a965f2"/><rect x="10.50" y="7.77" width="0.82" height="8.46" fill="#a965f2"/><rect x="11.50" y="7.25" width="0.82" height="9.50" fill="#a965f2"/><rect x="12.50" y="7.02" width="0.82" height="9.96" fill="#a965f2"/><rect x="13.50" y="7.04" width="0.82" height="9.91" fill="#a965f2"/><rect x="14.50" y="7.33" width="0.82" height="9.35" fill="#a965f2"/><rect x="15.50" y="7.92" width="0.82" height="8.16" fill="#a965f2"/><rect x="16.50" y="9.00" width="0.82" height="6.00" fill="#a965f2"/><rect x="21.50" y="3.40" width="0.82" height="17.20" fill="#a965f2"/><rect x="22.50" y="7.66" width="0.82" height="8.68" fill="#a965f2"/><rect x="23.50" y="8.24" width="0.82" height="7.51" fill="#a965f2"/><rect x="24.50" y="8.83" width="0.82" height="6.34" fill="#a965f2"/><rect x="25.50" y="9.42" width="0.82" height="5.17" fill="#a965f2"/><rect x="26.50" y="10.00" width="0.82" height="4.00" fill="#a965f2"/><rect x="27.50" y="10.59" width="0.82" height="2.83" fill="#a965f2"/><rect x="28.50" y="11.17" width="0.82" height="1.65" fill="#a965f2"/><rect x="32.50" y="3.40" width="0.82" height="17.20" fill="#a965f2"/><rect x="33.50" y="7.74" width="0.82" height="8.51" fill="#a965f2"/><rect x="34.50" y="8.33" width="0.82" height="7.34" fill="#a965f2"/><rect x="35.50" y="8.91" width="0.82" height="6.17" fill="#a965f2"/><rect x="36.50" y="9.50" width="0.82" height="5.00" fill="#a965f2"/><rect x="37.50" y="10.09" width="0.82" height="3.83" fill="#a965f2"/><rect x="38.50" y="10.67" width="0.82" height="2.65" fill="#a965f2"/><rect x="39.50" y="11.26" width="0.82" height="1.48" fill="#a965f2"/><rect x="44.50" y="3.40" width="0.82" height="17.20" fill="#a965f2"/><rect x="45.50" y="7.63" width="0.82" height="8.74" fill="#a965f2"/><rect x="46.50" y="8.21" width="0.82" height="7.57" fill="#a965f2"/><rect x="47.50" y="8.80" width="0.82" height="6.40" fill="#a965f2"/><rect x="48.50" y="9.39" width="0.82" height="5.23" fill="#a965f2"/><rect x="49.50" y="9.97" width="0.82" height="4.06" fill="#a965f2"/><rect x="50.50" y="10.56" width="0.82" height="2.89" fill="#a965f2"/><rect x="51.50" y="11.14" width="0.82" height="1.71" fill="#a965f2"/><rect x="55.50" y="3.40" width="0.82" height="17.20" fill="#a965f2"/><rect x="56.50" y="3.40" width="0.82" height="17.20" fill="#a965f2"/><rect x="57.50" y="7.93" width="0.82" height="8.15" fill="#a965f2"/><rect x="58.50" y="8.51" width="0.82" height="6.98" fill="#a965f2"/><rect x="59.50" y="8.86" width="0.82" height="6.28" fill="#a965f2"/><rect x="60.50" y="7.10" width="0.82" height="9.80" fill="#a965f2"/><rect x="61.50" y="6.22" width="0.82" height="11.56" fill="#a965f2"/><rect x="62.50" y="5.84" width="0.82" height="12.32" fill="#a965f2"/><rect x="63.50" y="5.86" width="0.82" height="12.28" fill="#a965f2"/><rect x="64.50" y="6.28" width="0.82" height="11.43" fill="#a965f2"/><rect x="65.50" y="7.22" width="0.82" height="9.55" fill="#a965f2"/><rect x="66.50" y="9.14" width="0.82" height="5.71" fill="#a965f2"/></g></svg>
<div class="a" style="left:762.50px;top:489.80px;width:294.50px;height:1.00px;background:#eceef0;"></div>
<span id="t63" class="t" style="left:762.50px;top:499.50px;font-size:9.50px;line-height:11.40px;color:#202124;font-weight:400;letter-spacing:0.527px;-webkit-text-stroke:0.22px #202124;">Lost Love intro</span>
<svg class="a" style="left:841.40px;top:499.80px;" width="9.40" height="9.40" viewBox="0 0 9.4 9.4"><path d="M1 8.6L1.4 6.6L6.2 1.8a1 1 0 0 1 1.6 1.6L3 8.2Z" fill="none" stroke="#202124" stroke-width="0.95" stroke-linejoin="round"/><path d="M5.6 2.4L7.2 4" stroke="#202124" stroke-width="0.95"/><path d="M6 2L7.4 0.9L8.7 2.2L7.6 3.6Z" fill="#202124"/></svg>
<svg class="a" style="left:1044.90px;top:500.90px;" width="7.20" height="7.00" viewBox="0 0 7.2 7"><path d="M1 2.2L3.6 4.8L6.2 2.2" fill="none" stroke="#202124" stroke-width="1.15"/></svg>
<span id="t64" class="t" style="left:762.50px;top:512.34px;font-size:8.60px;line-height:10.32px;color:#72767b;font-weight:400;letter-spacing:0.146px;">INPAINT, 8 MINS AGO</span>
<span id="t65" class="t" style="left:862.90px;top:512.34px;font-size:8.60px;line-height:10.32px;color:#72767b;font-weight:400;letter-spacing:-0.400px;">BPM</span>
<span id="t66" class="t" style="left:883.50px;top:512.34px;font-size:8.60px;line-height:10.32px;color:#3c4043;font-weight:400;letter-spacing:-0.372px;">120</span>
<div class="a" style="left:750.00px;top:515.60px;width:320.00px;height:87.00px;background:#fff;box-shadow:0 -1px 3px rgba(0,0,0,0.10);"></div>
<div class="a" style="left:763.60px;top:527.40px;width:14.40px;height:14.40px;background:#f4f5f6;border-radius:50%;"></div>
<svg class="a" style="left:767.20px;top:531.20px;" width="7.00" height="7.00" viewBox="0 0 7 7"><rect x="0.6" y="0.8" width="1.1" height="5.4" fill="#111"/><polygon points="6.2,0.8 6.2,6.2 2.4,3.5" fill="#111"/></svg>
<svg class="a" style="left:784.00px;top:524.00px;" width="21.40" height="21.40" viewBox="0 0 21.4 21.4"><circle cx="10.7" cy="10.7" r="10.6" fill="#111"/><polygon points="8.2,6.4 8.2,15 14.8,10.7" fill="#fff"/></svg>
<div class="a" style="left:810.80px;top:527.40px;width:14.40px;height:14.40px;background:#f4f5f6;border-radius:50%;"></div>
<svg class="a" style="left:814.60px;top:531.20px;" width="7.00" height="7.00" viewBox="0 0 7 7"><rect x="5.3" y="0.8" width="1.1" height="5.4" fill="#111"/><polygon points="0.8,0.8 0.8,6.2 4.6,3.5" fill="#111"/></svg>
<svg class="a" style="left:835.20px;top:529.40px;" width="10.00" height="11.00" viewBox="0 0 10 11"><path d="M1.2 4.6V2.4H8.2M6.6 0.6L8.6 2.4L6.6 4.2M8.8 6.4V8.6H1.8M3.4 6.8L1.4 8.6L3.4 10.4" fill="none" stroke="#111" stroke-width="1.1"/></svg>
<span id="t67" class="t" style="left:859.00px;top:523.22px;font-size:8.80px;line-height:10.56px;color:#202124;font-weight:400;letter-spacing:-0.186px;-webkit-text-stroke:0.2px #202124;">Track 1</span>
<span id="t68" class="t" style="left:859.00px;top:534.24px;font-size:9.60px;line-height:11.52px;color:#5f6368;font-weight:400;letter-spacing:0.500px;">pre soaring</span>
<svg class="a" style="left:1000.00px;top:528.80px;" width="10.00" height="11.00" viewBox="0 0 10 11"><path d="M5 0.8V6.6M2.4 4.2L5 6.8L7.6 4.2M1 9.6H9" fill="none" stroke="#202124" stroke-width="1.1"/></svg>
<svg class="a" style="left:1022.40px;top:528.80px;" width="11.00" height="11.00" viewBox="0 0 11 11"><polygon points="5.5,1 6.8,4.3 10.3,4.5 7.6,6.7 8.5,10.1 5.5,8.2 2.5,10.1 3.4,6.7 0.7,4.5 4.2,4.3" fill="none" stroke="#202124" stroke-width="1"/></svg>
<svg class="a" style="left:1044.90px;top:531.00px;" width="7.20" height="7.00" viewBox="0 0 7.2 7"><path d="M1 2.2L3.6 4.8L6.2 2.2" fill="none" stroke="#202124" stroke-width="1.15"/></svg>
<svg class="a" style="left:762.40px;top:553.00px;" width="294.60" height="20.00" viewBox="0 0 294.6 20"><rect x="0.00" y="9.50" width="0.85" height="1.00" fill="#ea70ee"/><rect x="1.00" y="9.50" width="0.85" height="1.00" fill="#ea70ee"/><rect x="2.00" y="7.23" width="0.85" height="5.54" fill="#ea70ee"/><rect x="3.00" y="7.29" width="0.85" height="5.43" fill="#ea70ee"/><rect x="4.00" y="6.91" width="0.85" height="6.17" fill="#ea70ee"/><rect x="5.00" y="7.37" width="0.85" height="5.27" fill="#ea70ee"/><rect x="6.00" y="7.14" width="0.85" height="5.73" fill="#ea70ee"/><rect x="7.00" y="9.50" width="0.85" height="1.00" fill="#ea70ee"/><rect x="8.00" y="9.50" width="0.85" height="1.00" fill="#ea70ee"/><rect x="9.00" y="9.50" width="0.85" height="1.00" fill="#ea70ee"/><rect x="10.00" y="6.50" width="0.85" height="7.00" fill="#ea70ee"/><rect x="11.00" y="8.16" width="0.85" height="3.69" fill="#ea70ee"/><rect x="12.00" y="9.50" width="0.85" height="1.00" fill="#ea70ee"/><rect x="13.00" y="7.51" width="0.85" height="4.97" fill="#ea70ee"/><rect x="14.00" y="3.00" width="0.85" height="14.00" fill="#ea70ee"/><rect x="15.00" y="7.30" width="0.85" height="5.40" fill="#ea70ee"/><rect x="16.00" y="9.50" width="0.85" height="1.00" fill="#ea70ee"/><rect x="17.00" y="9.50" width="0.85" height="1.00" fill="#ea70ee"/><rect x="18.00" y="8.45" width="0.85" height="3.10" fill="#ea70ee"/><rect x="19.00" y="8.71" width="0.85" height="2.58" fill="#ea70ee"/><rect x="20.00" y="9.50" width="0.85" height="1.00" fill="#ea70ee"/><rect x="21.00" y="9.50" width="0.85" height="1.00" fill="#ea70ee"/><rect x="22.00" y="9.50" width="0.85" height="1.00" fill="#ea70ee"/><rect x="23.00" y="6.43" width="0.85" height="7.14" fill="#ea70ee"/><rect x="24.00" y="1.00" width="0.85" height="18.00" fill="#ea70ee"/><rect x="25.00" y="6.53" width="0.85" height="6.93" fill="#ea70ee"/><rect x="26.00" y="1.45" width="0.85" height="17.10" fill="#ea70ee"/><rect x="27.00" y="9.50" width="0.85" height="1.00" fill="#ea70ee"/><rect x="28.00" y="9.50" width="0.85" height="1.00" fill="#ea70ee"/><rect x="29.00" y="9.50" width="0.85" height="1.00" fill="#ea70ee"/><rect x="30.00" y="9.50" width="0.85" height="1.00" fill="#ea70ee"/><rect x="31.00" y="8.65" width="0.85" height="2.71" fill="#ea70ee"/><rect x="32.00" y="8.83" width="0.85" height="2.34" fill="#ea70ee"/><rect x="33.00" y="9.50" width="0.85" height="1.00" fill="#ea70ee"/><rect x="34.00" y="9.50" width="0.85" height="1.00" fill="#ea70ee"/><rect x="35.00" y="9.50" width="0.85" height="1.00" fill="#ea70ee"/><rect x="36.00" y="6.37" width="0.85" height="7.26" fill="#ea70ee"/><rect x="37.00" y="6.57" width="0.85" height="6.87" fill="#ea70ee"/><rect x="38.00" y="1.80" width="0.85" height="16.40" fill="#ea70ee"/><rect x="39.00" y="6.19" width="0.85" height="7.62" fill="#ea70ee"/><rect x="40.00" y="2.21" width="0.85" height="15.58" fill="#ea70ee"/><rect x="41.00" y="9.50" width="0.85" height="1.00" fill="#ea70ee"/><rect x="42.00" y="9.50" width="0.85" height="1.00" fill="#ea70ee"/><rect x="43.00" y="9.50" width="0.85" height="1.00" fill="#ea70ee"/><rect x="44.00" y="8.74" width="0.85" height="2.52" fill="#ea70ee"/><rect x="45.00" y="8.78" width="0.85" height="2.45" fill="#ea70ee"/><rect x="46.00" y="9.50" width="0.85" height="1.00" fill="#ea70ee"/><rect x="47.00" y="9.50" width="0.85" height="1.00" fill="#ea70ee"/><rect x="48.00" y="5.97" width="0.85" height="8.06" fill="#ea70ee"/><rect x="49.00" y="5.62" width="0.85" height="8.76" fill="#ea70ee"/><rect x="50.00" y="5.74" width="0.85" height="8.52" fill="#ea70ee"/><rect x="51.00" y="3.60" width="0.85" height="12.80" fill="#ea70ee"/><rect x="52.00" y="6.09" width="0.85" height="7.83" fill="#fad8fb"/><rect x="53.00" y="3.92" width="0.85" height="12.16" fill="#fad8fb"/><rect x="54.00" y="5.22" width="0.85" height="9.57" fill="#fad8fb"/><rect x="55.00" y="9.50" width="0.85" height="1.00" fill="#fad8fb"/><rect x="56.00" y="9.50" width="0.85" height="1.00" fill="#fad8fb"/><rect x="57.00" y="9.50" width="0.85" height="1.00" fill="#fad8fb"/><rect x="58.00" y="7.16" width="0.85" height="5.69" fill="#fad8fb"/><rect x="59.00" y="5.40" width="0.85" height="9.20" fill="#fad8fb"/><rect x="60.00" y="7.09" width="0.85" height="5.82" fill="#fad8fb"/><rect x="61.00" y="7.54" width="0.85" height="4.91" fill="#fad8fb"/><rect x="62.00" y="9.50" width="0.85" height="1.00" fill="#fad8fb"/><rect x="63.00" y="7.68" width="0.85" height="4.64" fill="#fad8fb"/><rect x="64.00" y="4.40" width="0.85" height="11.20" fill="#fad8fb"/><rect x="65.00" y="7.51" width="0.85" height="4.97" fill="#fad8fb"/><rect x="66.00" y="7.64" width="0.85" height="4.72" fill="#fad8fb"/><rect x="67.00" y="9.50" width="0.85" height="1.00" fill="#fad8fb"/><rect x="68.00" y="9.50" width="0.85" height="1.00" fill="#fad8fb"/><rect x="69.00" y="7.21" width="0.85" height="5.58" fill="#fad8fb"/><rect x="70.00" y="5.00" width="0.85" height="10.00" fill="#fad8fb"/><rect x="71.00" y="6.75" width="0.85" height="6.50" fill="#fad8fb"/><rect x="72.00" y="9.50" width="0.85" height="1.00" fill="#fad8fb"/><rect x="73.00" y="9.50" width="0.85" height="1.00" fill="#fad8fb"/><rect x="74.00" y="7.36" width="0.85" height="5.28" fill="#fad8fb"/><rect x="75.00" y="6.84" width="0.85" height="6.32" fill="#fad8fb"/><rect x="76.00" y="7.40" width="0.85" height="5.19" fill="#fad8fb"/><rect x="77.00" y="6.90" width="0.85" height="6.20" fill="#fad8fb"/><rect x="78.00" y="6.82" width="0.85" height="6.37" fill="#fad8fb"/><rect x="79.00" y="9.50" width="0.85" height="1.00" fill="#fad8fb"/><rect x="80.00" y="9.50" width="0.85" height="1.00" fill="#fad8fb"/><rect x="81.00" y="9.50" width="0.85" height="1.00" fill="#fad8fb"/><rect x="82.00" y="6.50" width="0.85" height="7.00" fill="#fad8fb"/><rect x="83.00" y="8.02" width="0.85" height="3.96" fill="#fad8fb"/><rect x="84.00" y="9.50" width="0.85" height="1.00" fill="#fad8fb"/><rect x="85.00" y="9.50" width="0.85" height="1.00" fill="#fad8fb"/><rect x="86.00" y="3.00" width="0.85" height="14.00" fill="#fad8fb"/><rect x="87.00" y="7.47" width="0.85" height="5.06" fill="#fad8fb"/><rect x="88.00" y="7.32" width="0.85" height="5.37" fill="#fad8fb"/><rect x="89.00" y="9.50" width="0.85" height="1.00" fill="#fad8fb"/><rect x="90.00" y="9.50" width="0.85" height="1.00" fill="#fad8fb"/><rect x="91.00" y="8.48" width="0.85" height="3.03" fill="#fad8fb"/><rect x="92.00" y="8.47" width="0.85" height="3.05" fill="#fad8fb"/><rect x="93.00" y="9.50" width="0.85" height="1.00" fill="#fad8fb"/><rect x="94.00" y="9.50" width="0.85" height="1.00" fill="#fad8fb"/><rect x="95.00" y="6.84" width="0.85" height="6.31" fill="#fad8fb"/><rect x="96.00" y="1.00" width="0.85" height="18.00" fill="#fad8fb"/><rect x="97.00" y="7.09" width="0.85" height="5.81" fill="#fad8fb"/><rect x="98.00" y="1.45" width="0.85" height="17.10" fill="#fad8fb"/><rect x="99.00" y="7.09" width="0.85" height="5.82" fill="#fad8fb"/><rect x="100.00" y="9.50" width="0.85" height="1.00" fill="#fad8fb"/><rect x="101.00" y="9.50" width="0.85" height="1.00" fill="#fad8fb"/><rect x="102.00" y="9.50" width="0.85" height="1.00" fill="#fad8fb"/><rect x="103.00" y="8.78" width="0.85" height="2.44" fill="#fad8fb"/><rect x="104.00" y="8.60" width="0.85" height="2.79" fill="#fad8fb"/><rect x="105.00" y="9.50" width="0.85" height="1.00" fill="#fad8fb"/><rect x="106.00" y="9.50" width="0.85" height="1.00" fill="#fad8fb"/><rect x="107.00" y="9.50" width="0.85" height="1.00" fill="#fad8fb"/><rect x="108.00" y="9.50" width="0.85" height="1.00" fill="#fad8fb"/><rect x="109.00" y="6.54" width="0.85" height="6.92" fill="#fad8fb"/><rect x="110.00" y="1.80" width="0.85" height="16.40" fill="#fad8fb"/><rect x="111.00" y="5.88" width="0.85" height="8.24" fill="#fad8fb"/><rect x="112.00" y="2.21" width="0.85" height="15.58" fill="#fad8fb"/><rect x="113.00" y="6.59" width="0.85" height="6.81" fill="#fad8fb"/><rect x="114.00" y="9.50" width="0.85" height="1.00" fill="#fad8fb"/><rect x="115.00" y="9.50" width="0.85" height="1.00" fill="#fad8fb"/><rect x="116.00" y="8.66" width="0.85" height="2.68" fill="#fad8fb"/><rect x="117.00" y="8.59" width="0.85" height="2.82" fill="#fad8fb"/><rect x="118.00" y="9.50" width="0.85" height="1.00" fill="#fad8fb"/><rect x="119.00" y="9.50" width="0.85" height="1.00" fill="#fad8fb"/><rect x="120.00" y="9.50" width="0.85" height="1.00" fill="#fad8fb"/><rect x="121.00" y="6.07" width="0.85" height="7.86" fill="#fad8fb"/><rect x="122.00" y="5.87" width="0.85" height="8.25" fill="#fad8fb"/><rect x="123.00" y="3.60" width="0.85" height="12.80" fill="#fad8fb"/><rect x="124.00" y="5.35" width="0.85" height="9.30" fill="#fad8fb"/><rect x="125.00" y="3.92" width="0.85" height="12.16" fill="#fad8fb"/><rect x="126.00" y="5.27" width="0.85" height="9.45" fill="#fad8fb"/><rect x="127.00" y="9.50" width="0.85" height="1.00" fill="#fad8fb"/><rect x="128.00" y="9.50" width="0.85" height="1.00" fill="#fad8fb"/><rect x="129.00" y="9.50" width="0.85" height="1.00" fill="#fad8fb"/><rect x="130.00" y="7.15" width="0.85" height="5.70" fill="#fad8fb"/><rect x="131.00" y="5.40" width="0.85" height="9.20" fill="#fad8fb"/><rect x="132.00" y="7.56" width="0.85" height="4.87" fill="#fad8fb"/><rect x="133.00" y="7.31" width="0.85" height="5.38" fill="#fad8fb"/><rect x="134.00" y="9.50" width="0.85" height="1.00" fill="#fad8fb"/><rect x="135.00" y="9.50" width="0.85" height="1.00" fill="#fad8fb"/><rect x="136.00" y="7.52" width="0.85" height="4.95" fill="#fad8fb"/><rect x="137.00" y="4.40" width="0.85" height="11.20" fill="#fad8fb"/><rect x="138.00" y="7.91" width="0.85" height="4.19" fill="#fad8fb"/><rect x="139.00" y="7.92" width="0.85" height="4.17" fill="#fad8fb"/><rect x="140.00" y="9.50" width="0.85" height="1.00" fill="#fad8fb"/><rect x="141.00" y="9.50" width="0.85" height="1.00" fill="#fad8fb"/><rect x="142.00" y="5.00" width="0.85" height="10.00" fill="#fad8fb"/><rect x="143.00" y="6.65" width="0.85" height="6.70" fill="#fad8fb"/><rect x="144.00" y="7.20" width="0.85" height="5.59" fill="#fad8fb"/><rect x="145.00" y="9.50" width="0.85" height="1.00" fill="#fad8fb"/><rect x="146.00" y="9.50" width="0.85" height="1.00" fill="#fad8fb"/><rect x="147.00" y="7.14" width="0.85" height="5.73" fill="#fad8fb"/><rect x="148.00" y="6.87" width="0.85" height="6.25" fill="#fad8fb"/><rect x="149.00" y="7.35" width="0.85" height="5.29" fill="#fad8fb"/><rect x="150.00" y="7.27" width="0.85" height="5.45" fill="#fad8fb"/><rect x="151.00" y="6.95" width="0.85" height="6.11" fill="#fad8fb"/><rect x="152.00" y="9.50" width="0.85" height="1.00" fill="#fad8fb"/><rect x="153.00" y="9.50" width="0.85" height="1.00" fill="#fad8fb"/><rect x="154.00" y="9.50" width="0.85" height="1.00" fill="#fad8fb"/><rect x="155.00" y="6.50" width="0.85" height="7.00" fill="#fad8fb"/><rect x="156.00" y="8.33" width="0.85" height="3.33" fill="#fad8fb"/><rect x="157.00" y="9.50" width="0.85" height="1.00" fill="#fad8fb"/><rect x="158.00" y="7.58" width="0.85" height="4.83" fill="#fad8fb"/><rect x="159.00" y="3.00" width="0.85" height="14.00" fill="#fad8fb"/><rect x="160.00" y="7.46" width="0.85" height="5.08" fill="#fad8fb"/><rect x="161.00" y="9.50" width="0.85" height="1.00" fill="#fad8fb"/><rect x="162.00" y="9.50" width="0.85" height="1.00" fill="#fad8fb"/><rect x="163.00" y="9.50" width="0.85" height="1.00" fill="#fad8fb"/><rect x="164.00" y="8.56" width="0.85" height="2.88" fill="#fad8fb"/><rect x="165.00" y="8.60" width="0.85" height="2.80" fill="#fad8fb"/><rect x="166.00" y="9.50" width="0.85" height="1.00" fill="#fad8fb"/><rect x="167.00" y="9.50" width="0.85" height="1.00" fill="#fad8fb"/><rect x="168.00" y="6.41" width="0.85" height="7.17" fill="#fad8fb"/><rect x="169.00" y="1.00" width="0.85" height="18.00" fill="#fad8fb"/><rect x="170.00" y="6.69" width="0.85" height="6.63" fill="#fad8fb"/><rect x="171.00" y="1.45" width="0.85" height="17.10" fill="#fad8fb"/><rect x="172.00" y="9.50" width="0.85" height="1.00" fill="#fad8fb"/><rect x="173.00" y="9.50" width="0.85" height="1.00" fill="#fad8fb"/><rect x="174.00" y="9.50" width="0.85" height="1.00" fill="#fad8fb"/><rect x="175.00" y="9.50" width="0.85" height="1.00" fill="#fad8fb"/><rect x="176.00" y="8.81" width="0.85" height="2.39" fill="#fad8fb"/><rect x="177.00" y="8.65" width="0.85" height="2.71" fill="#fad8fb"/><rect x="178.00" y="9.50" width="0.85" height="1.00" fill="#fad8fb"/><rect x="179.00" y="9.50" width="0.85" height="1.00" fill="#fad8fb"/><rect x="180.00" y="9.50" width="0.85" height="1.00" fill="#fad8fb"/><rect x="181.00" y="6.55" width="0.85" height="6.89" fill="#fad8fb"/><rect x="182.00" y="6.12" width="0.85" height="7.76" fill="#fad8fb"/><rect x="183.00" y="1.80" width="0.85" height="16.40" fill="#fad8fb"/><rect x="184.00" y="6.41" width="0.85" height="7.18" fill="#fad8fb"/><rect x="185.00" y="2.21" width="0.85" height="15.58" fill="#fad8fb"/><rect x="186.00" y="9.50" width="0.85" height="1.00" fill="#fad8fb"/><rect x="187.00" y="9.50" width="0.85" height="1.00" fill="#fad8fb"/><rect x="188.00" y="9.50" width="0.85" height="1.00" fill="#fad8fb"/><rect x="189.00" y="8.74" width="0.85" height="2.51" fill="#fad8fb"/><rect x="190.00" y="8.62" width="0.85" height="2.76" fill="#fad8fb"/><rect x="191.00" y="9.50" width="0.85" height="1.00" fill="#fad8fb"/><rect x="192.00" y="9.50" width="0.85" height="1.00" fill="#fad8fb"/><rect x="193.00" y="6.09" width="0.85" height="7.82" fill="#fad8fb"/><rect x="194.00" y="6.14" width="0.85" height="7.72" fill="#fad8fb"/><rect x="195.00" y="6.02" width="0.85" height="7.95" fill="#fad8fb"/><rect x="196.00" y="3.60" width="0.85" height="12.80" fill="#fad8fb"/><rect x="197.00" y="5.32" width="0.85" height="9.37" fill="#fad8fb"/><rect x="198.00" y="3.92" width="0.85" height="12.16" fill="#fad8fb"/><rect x="199.00" y="5.51" width="0.85" height="8.98" fill="#fad8fb"/><rect x="200.00" y="9.50" width="0.85" height="1.00" fill="#fad8fb"/><rect x="201.00" y="9.50" width="0.85" height="1.00" fill="#fad8fb"/><rect x="202.00" y="9.50" width="0.85" height="1.00" fill="#fad8fb"/><rect x="203.00" y="7.13" width="0.85" height="5.73" fill="#fad8fb"/><rect x="204.00" y="5.40" width="0.85" height="9.20" fill="#fad8fb"/><rect x="205.00" y="7.03" width="0.85" height="5.94" fill="#fad8fb"/><rect x="206.00" y="7.37" width="0.85" height="5.26" fill="#fad8fb"/><rect x="207.00" y="9.50" width="0.85" height="1.00" fill="#fad8fb"/><rect x="208.00" y="7.68" width="0.85" height="4.64" fill="#fad8fb"/><rect x="209.00" y="4.40" width="0.85" height="11.20" fill="#fad8fb"/><rect x="210.00" y="7.56" width="0.85" height="4.88" fill="#fad8fb"/><rect x="211.00" y="7.52" width="0.85" height="4.96" fill="#fad8fb"/><rect x="212.00" y="9.50" width="0.85" height="1.00" fill="#fad8fb"/><rect x="213.00" y="9.50" width="0.85" height="1.00" fill="#fad8fb"/><rect x="214.00" y="7.15" width="0.85" height="5.70" fill="#fad8fb"/><rect x="215.00" y="5.00" width="0.85" height="10.00" fill="#fad8fb"/><rect x="216.00" y="6.99" width="0.85" height="6.02" fill="#fad8fb"/><rect x="217.00" y="7.11" width="0.85" height="5.78" fill="#fad8fb"/><rect x="218.00" y="9.50" width="0.85" height="1.00" fill="#fad8fb"/><rect x="219.00" y="9.50" width="0.85" height="1.00" fill="#fad8fb"/><rect x="220.00" y="9.50" width="0.85" height="1.00" fill="#fad8fb"/><rect x="221.00" y="6.88" width="0.85" height="6.24" fill="#fad8fb"/><rect x="222.00" y="6.89" width="0.85" height="6.22" fill="#fad8fb"/><rect x="223.00" y="7.23" width="0.85" height="5.53" fill="#fad8fb"/><rect x="224.00" y="6.86" width="0.85" height="6.29" fill="#fad8fb"/><rect x="225.00" y="6.94" width="0.85" height="6.11" fill="#fad8fb"/><rect x="226.00" y="9.50" width="0.85" height="1.00" fill="#fad8fb"/><rect x="227.00" y="9.50" width="0.85" height="1.00" fill="#fad8fb"/><rect x="228.00" y="9.50" width="0.85" height="1.00" fill="#fad8fb"/><rect x="229.00" y="6.50" width="0.85" height="7.00" fill="#fad8fb"/><rect x="230.00" y="8.10" width="0.85" height="3.80" fill="#fad8fb"/><rect x="231.00" y="9.50" width="0.85" height="1.00" fill="#fad8fb"/><rect x="232.00" y="7.00" width="0.85" height="6.00" fill="#fad8fb"/><rect x="233.00" y="3.00" width="0.85" height="14.00" fill="#fad8fb"/><rect x="234.00" y="7.15" width="0.85" height="5.70" fill="#fad8fb"/><rect x="235.00" y="9.50" width="0.85" height="1.00" fill="#fad8fb"/><rect x="236.00" y="9.50" width="0.85" height="1.00" fill="#fad8fb"/><rect x="237.00" y="9.50" width="0.85" height="1.00" fill="#fad8fb"/><rect x="238.00" y="8.47" width="0.85" height="3.06" fill="#fad8fb"/><rect x="239.00" y="8.55" width="0.85" height="2.90" fill="#fad8fb"/><rect x="240.00" y="9.50" width="0.85" height="1.00" fill="#fad8fb"/><rect x="241.00" y="9.50" width="0.85" height="1.00" fill="#fad8fb"/><rect x="242.00" y="6.76" width="0.85" height="6.49" fill="#fad8fb"/><rect x="243.00" y="1.00" width="0.85" height="18.00" fill="#fad8fb"/><rect x="244.00" y="6.49" width="0.85" height="7.01" fill="#fad8fb"/><rect x="245.00" y="1.45" width="0.85" height="17.10" fill="#fad8fb"/><rect x="246.00" y="9.50" width="0.85" height="1.00" fill="#fad8fb"/><rect x="247.00" y="9.50" width="0.85" height="1.00" fill="#fad8fb"/><rect x="248.00" y="9.50" width="0.85" height="1.00" fill="#fad8fb"/><rect x="249.00" y="9.50" width="0.85" height="1.00" fill="#fad8fb"/><rect x="250.00" y="8.67" width="0.85" height="2.66" fill="#fad8fb"/><rect x="251.00" y="8.72" width="0.85" height="2.55" fill="#fad8fb"/><rect x="252.00" y="9.50" width="0.85" height="1.00" fill="#fad8fb"/><rect x="253.00" y="9.50" width="0.85" height="1.00" fill="#fad8fb"/><rect x="254.00" y="9.50" width="0.85" height="1.00" fill="#fad8fb"/><rect x="255.00" y="6.05" width="0.85" height="7.91" fill="#fad8fb"/><rect x="256.00" y="6.38" width="0.85" height="7.24" fill="#fad8fb"/><rect x="257.00" y="1.80" width="0.85" height="16.40" fill="#fad8fb"/><rect x="258.00" y="6.07" width="0.85" height="7.85" fill="#fad8fb"/><rect x="259.00" y="2.21" width="0.85" height="15.58" fill="#fad8fb"/><rect x="260.00" y="9.50" width="0.85" height="1.00" fill="#fad8fb"/><rect x="261.00" y="9.50" width="0.85" height="1.00" fill="#fad8fb"/><rect x="262.00" y="9.50" width="0.85" height="1.00" fill="#fad8fb"/><rect x="263.00" y="8.69" width="0.85" height="2.62" fill="#fad8fb"/><rect x="264.00" y="8.57" width="0.85" height="2.87" fill="#fad8fb"/><rect x="265.00" y="9.50" width="0.85" height="1.00" fill="#fad8fb"/><rect x="266.00" y="9.50" width="0.85" height="1.00" fill="#fad8fb"/><rect x="267.00" y="6.11" width="0.85" height="7.77" fill="#fad8fb"/><rect x="268.00" y="5.29" width="0.85" height="9.43" fill="#fad8fb"/><rect x="269.00" y="5.59" width="0.85" height="8.81" fill="#fad8fb"/><rect x="270.00" y="3.60" width="0.85" height="12.80" fill="#fad8fb"/><rect x="271.00" y="5.51" width="0.85" height="8.98" fill="#fad8fb"/><rect x="272.00" y="3.92" width="0.85" height="12.16" fill="#fad8fb"/><rect x="273.00" y="6.14" width="0.85" height="7.72" fill="#fad8fb"/><rect x="274.00" y="9.50" width="0.85" height="1.00" fill="#fad8fb"/><rect x="275.00" y="9.50" width="0.85" height="1.00" fill="#fad8fb"/><rect x="276.00" y="9.50" width="0.85" height="1.00" fill="#fad8fb"/><rect x="277.00" y="7.17" width="0.85" height="5.66" fill="#fad8fb"/><rect x="278.00" y="5.40" width="0.85" height="9.20" fill="#fad8fb"/><rect x="279.00" y="7.22" width="0.85" height="5.57" fill="#fad8fb"/><rect x="280.00" y="7.11" width="0.85" height="5.79" fill="#fad8fb"/><rect x="281.00" y="9.50" width="0.85" height="1.00" fill="#fad8fb"/><rect x="282.00" y="9.50" width="0.85" height="1.00" fill="#fad8fb"/><rect x="283.00" y="7.78" width="0.85" height="4.44" fill="#fad8fb"/><rect x="284.00" y="4.40" width="0.85" height="11.20" fill="#fad8fb"/><rect x="285.00" y="7.42" width="0.85" height="5.17" fill="#fad8fb"/><rect x="286.00" y="7.89" width="0.85" height="4.22" fill="#fad8fb"/><rect x="287.00" y="9.50" width="0.85" height="1.00" fill="#fad8fb"/><rect x="288.00" y="6.93" width="0.85" height="6.14" fill="#fad8fb"/><rect x="289.00" y="5.00" width="0.85" height="10.00" fill="#fad8fb"/><rect x="290.00" y="6.63" width="0.85" height="6.74" fill="#fad8fb"/><rect x="291.00" y="7.22" width="0.85" height="5.56" fill="#fad8fb"/></svg>
<div class="a" style="left:762.40px;top:579.80px;width:294.60px;height:2.40px;background:#fce3fc;border-radius:1.2px;"></div>
<div class="a" style="left:762.40px;top:579.70px;width:52.00px;height:2.60px;background:#df52e5;border-radius:1.3px;"></div>
<svg class="a" style="left:809.10px;top:575.50px;" width="11.00" height="11.00" viewBox="0 0 11 11"><circle cx="5.5" cy="5.5" r="5.2" fill="#111"/></svg>
<span id="t69" class="t" style="left:762.60px;top:585.56px;font-size:8.40px;line-height:10.08px;color:#5f6368;font-weight:400;letter-spacing:0.862px;">0:08</span>
<span id="t70" class="t" style="left:1037.60px;top:585.56px;font-size:8.40px;line-height:10.08px;color:#5f6368;font-weight:400;letter-spacing:1.029px;">0:30</span>
</div>
</body></html>
